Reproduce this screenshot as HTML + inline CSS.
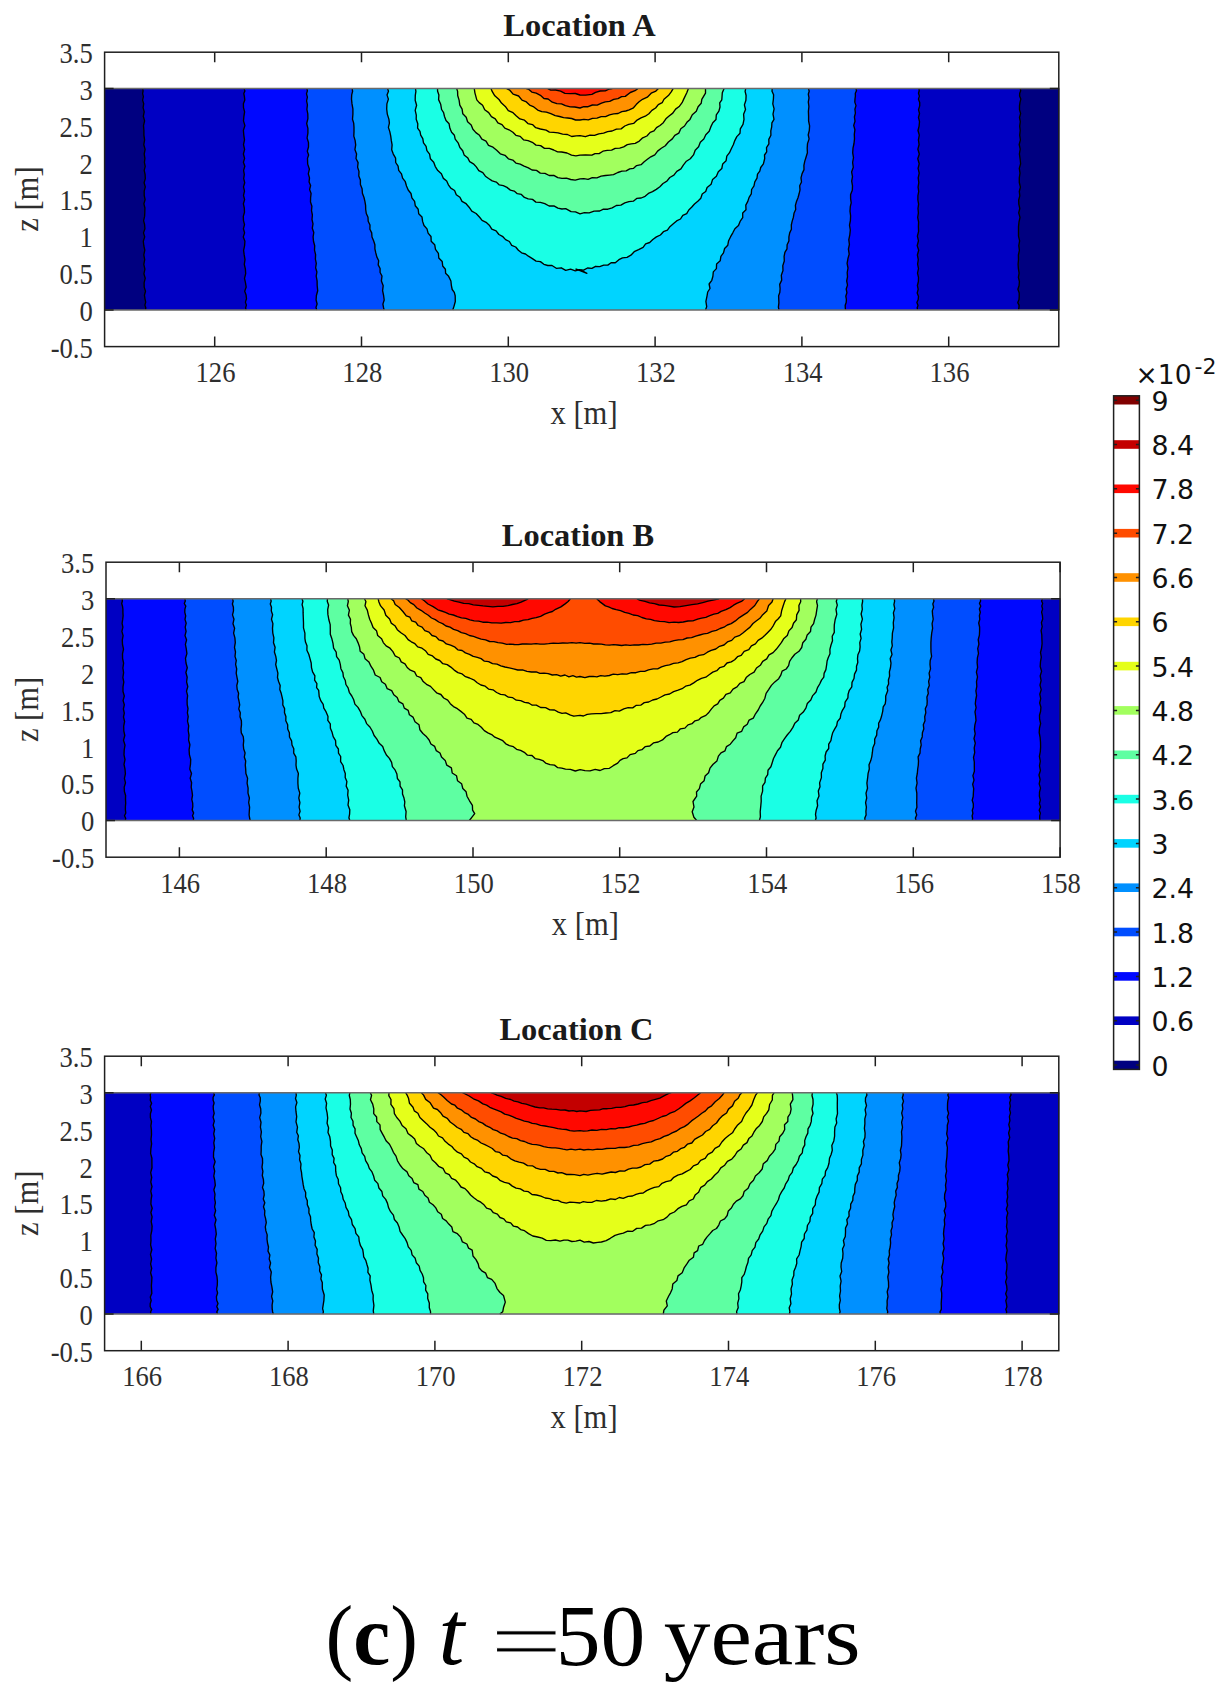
<!DOCTYPE html>
<html><head><meta charset="utf-8"><title>Contour figure</title>
<style>
html,body{margin:0;padding:0;background:#fff}
svg{display:block}
.c{fill:none;stroke:#000;stroke-width:1.35;stroke-linejoin:round}
.fb{fill:none;stroke:#6a6a6a;stroke-width:1.5}
.ax{fill:none;stroke:#1f1f1f;stroke-width:1.5}
.tk{font-family:"Liberation Serif",serif;font-size:26.6px;fill:#2e2e2e}
.lb{font-family:"Liberation Serif",serif;font-size:30.6px;fill:#2e2e2e}
.ti{font-family:"Liberation Serif",serif;font-size:31.5px;font-weight:bold;fill:#1a1a1a}
.cb{font-family:"DejaVu Sans",sans-serif;font-size:26.8px;fill:#111}
.cp{font-family:"Liberation Serif",serif;font-size:84px;fill:#000}
</style></head><body>
<svg width="1224" height="1704" viewBox="0 0 1224 1704">
<rect width="1224" height="1704" fill="#fff"/>
<rect x="104.6" y="88.6" width="954.8" height="221.4" fill="#000080"/>
<polygon points="142.7,88.6 143.1,90.9 142.6,93.6 143.4,96.6 142.6,100.1 143.7,103.7 143.1,107.7 144.2,111.9 143.3,116.3 144.6,120.9 143.5,125.6 143.9,130.3 143.9,135.1 144.6,139.9 143.8,144.7 145.1,149.4 144.2,154.0 144.9,158.4 144.4,162.3 145.2,166.3 144.2,170.4 145.1,174.5 145.3,178.6 144.1,182.7 145.3,186.9 144.2,191.1 144.2,195.3 145.1,199.6 143.9,203.8 144.9,208.0 144.8,212.2 144.6,216.4 143.6,220.6 144.6,224.7 144.9,228.8 143.5,232.9 144.7,236.9 143.3,241.2 143.8,245.7 144.8,250.2 143.8,254.9 144.7,259.6 143.8,264.4 144.9,269.1 143.9,273.8 145.2,278.3 144.1,282.8 144.2,287.1 145.5,291.2 144.4,295.2 145.0,298.8 145.7,302.1 144.9,305.1 145.8,307.8 145.5,310.0 1018.4,310.0 1018.9,307.8 1019.1,305.4 1017.8,302.6 1019.0,299.6 1019.2,296.4 1019.2,293.0 1017.9,289.3 1019.1,285.5 1019.4,281.5 1018.4,277.4 1019.1,273.1 1018.4,268.7 1018.1,264.2 1018.5,259.7 1018.4,255.0 1019.4,250.3 1018.8,245.6 1019.6,240.8 1018.5,236.1 1018.5,231.3 1018.5,226.6 1019.0,222.0 1020.0,217.4 1018.7,212.9 1019.8,208.5 1018.8,204.2 1018.7,200.0 1019.8,195.8 1019.3,191.5 1020.4,187.1 1019.3,182.5 1019.3,177.9 1020.0,173.2 1019.3,168.4 1020.6,163.7 1020.1,158.8 1019.4,154.0 1020.2,149.2 1019.2,144.5 1020.4,139.8 1019.7,135.1 1020.2,130.5 1019.7,126.1 1020.3,121.7 1019.5,117.5 1020.6,113.5 1019.5,109.6 1019.5,105.9 1020.0,102.4 1020.8,99.1 1019.6,96.1 1019.7,93.3 1020.7,90.8 1020.3,88.6" fill="#0000c3"/>
<polyline points="142.7,88.6 143.1,90.9 142.6,93.6 143.4,96.6 142.6,100.1 143.7,103.7 143.1,107.7 144.2,111.9 143.3,116.3 144.6,120.9 143.5,125.6 143.9,130.3 143.9,135.1 144.6,139.9 143.8,144.7 145.1,149.4 144.2,154.0 144.9,158.4 144.4,162.3 145.2,166.3 144.2,170.4 145.1,174.5 145.3,178.6 144.1,182.7 145.3,186.9 144.2,191.1 144.2,195.3 145.1,199.6 143.9,203.8 144.9,208.0 144.8,212.2 144.6,216.4 143.6,220.6 144.6,224.7 144.9,228.8 143.5,232.9 144.7,236.9 143.3,241.2 143.8,245.7 144.8,250.2 143.8,254.9 144.7,259.6 143.8,264.4 144.9,269.1 143.9,273.8 145.2,278.3 144.1,282.8 144.2,287.1 145.5,291.2 144.4,295.2 145.0,298.8 145.7,302.1 144.9,305.1 145.8,307.8 145.5,310.0" class="c"/>
<polyline points="1020.3,88.6 1020.7,90.8 1019.7,93.3 1019.6,96.1 1020.8,99.1 1020.0,102.4 1019.5,105.9 1019.5,109.6 1020.6,113.5 1019.5,117.5 1020.3,121.7 1019.7,126.1 1020.2,130.5 1019.7,135.1 1020.4,139.8 1019.2,144.5 1020.2,149.2 1019.4,154.0 1020.1,158.8 1020.6,163.7 1019.3,168.4 1020.0,173.2 1019.3,177.9 1019.3,182.5 1020.4,187.1 1019.3,191.5 1019.8,195.8 1018.7,200.0 1018.8,204.2 1019.8,208.5 1018.7,212.9 1020.0,217.4 1019.0,222.0 1018.5,226.6 1018.5,231.3 1018.5,236.1 1019.6,240.8 1018.8,245.6 1019.4,250.3 1018.4,255.0 1018.5,259.7 1018.1,264.2 1018.4,268.7 1019.1,273.1 1018.4,277.4 1019.4,281.5 1019.1,285.5 1017.9,289.3 1019.2,293.0 1019.2,296.4 1019.0,299.6 1017.8,302.6 1019.1,305.4 1018.9,307.8 1018.4,310.0" class="c"/>
<polygon points="244.1,88.6 244.9,90.9 243.8,93.6 244.4,96.6 244.8,100.0 243.4,103.7 243.5,107.7 244.6,111.9 243.9,116.3 243.5,120.9 244.9,125.6 243.4,130.3 243.8,135.1 244.5,139.9 243.5,144.7 244.6,149.4 243.4,154.0 244.6,158.4 243.4,162.3 244.8,166.3 243.6,170.4 244.3,174.5 243.7,178.6 244.7,182.7 243.5,186.9 244.5,191.1 243.5,195.3 244.6,199.6 243.4,203.8 244.3,208.0 244.5,212.2 243.3,216.4 243.5,220.6 244.5,224.7 243.4,228.8 244.6,232.9 243.3,236.9 244.9,241.2 244.6,245.7 243.6,250.3 244.2,254.9 245.0,259.6 244.3,264.4 245.4,269.1 245.7,273.7 244.5,278.4 245.5,282.8 246.2,287.1 244.7,291.3 246.1,295.1 246.5,298.8 245.4,302.1 246.4,305.1 245.6,307.8 246.1,310.0 917.6,310.0 917.2,307.8 918.0,305.4 916.9,302.6 918.2,299.6 918.5,296.4 917.2,293.0 918.2,289.3 917.4,285.5 918.4,281.5 918.5,277.4 917.5,273.1 918.5,268.7 917.6,264.2 918.3,259.7 917.4,255.0 918.7,250.3 917.2,245.6 918.5,240.8 917.4,236.1 918.6,231.4 918.4,226.7 918.6,222.0 917.7,217.4 918.4,212.9 918.0,208.5 918.6,204.2 917.9,200.0 917.9,195.8 918.7,191.5 918.1,187.1 918.8,182.5 918.2,177.9 919.2,173.2 918.1,168.4 919.2,163.7 917.8,158.8 919.3,154.0 917.9,149.2 919.1,144.5 918.4,139.8 919.3,135.1 918.0,130.5 919.1,126.1 919.5,121.7 918.5,117.5 919.5,113.5 918.5,109.6 919.7,105.9 919.7,102.4 918.4,99.1 919.4,96.1 918.5,93.3 919.2,90.8 919.0,88.6" fill="#0008ff"/>
<polyline points="244.1,88.6 244.9,90.9 243.8,93.6 244.4,96.6 244.8,100.0 243.4,103.7 243.5,107.7 244.6,111.9 243.9,116.3 243.5,120.9 244.9,125.6 243.4,130.3 243.8,135.1 244.5,139.9 243.5,144.7 244.6,149.4 243.4,154.0 244.6,158.4 243.4,162.3 244.8,166.3 243.6,170.4 244.3,174.5 243.7,178.6 244.7,182.7 243.5,186.9 244.5,191.1 243.5,195.3 244.6,199.6 243.4,203.8 244.3,208.0 244.5,212.2 243.3,216.4 243.5,220.6 244.5,224.7 243.4,228.8 244.6,232.9 243.3,236.9 244.9,241.2 244.6,245.7 243.6,250.3 244.2,254.9 245.0,259.6 244.3,264.4 245.4,269.1 245.7,273.7 244.5,278.4 245.5,282.8 246.2,287.1 244.7,291.3 246.1,295.1 246.5,298.8 245.4,302.1 246.4,305.1 245.6,307.8 246.1,310.0" class="c"/>
<polyline points="919.0,88.6 919.2,90.8 918.5,93.3 919.4,96.1 918.4,99.1 919.7,102.4 919.7,105.9 918.5,109.6 919.5,113.5 918.5,117.5 919.5,121.7 919.1,126.1 918.0,130.5 919.3,135.1 918.4,139.8 919.1,144.5 917.9,149.2 919.3,154.0 917.8,158.8 919.2,163.7 918.1,168.4 919.2,173.2 918.2,177.9 918.8,182.5 918.1,187.1 918.7,191.5 917.9,195.8 917.9,200.0 918.6,204.2 918.0,208.5 918.4,212.9 917.7,217.4 918.6,222.0 918.4,226.7 918.6,231.4 917.4,236.1 918.5,240.8 917.2,245.6 918.7,250.3 917.4,255.0 918.3,259.7 917.6,264.2 918.5,268.7 917.5,273.1 918.5,277.4 918.4,281.5 917.4,285.5 918.2,289.3 917.2,293.0 918.5,296.4 918.2,299.6 916.9,302.6 918.0,305.4 917.2,307.8 917.6,310.0" class="c"/>
<polygon points="306.9,88.6 307.4,90.9 306.5,93.8 307.4,97.1 306.6,100.9 307.4,104.9 306.9,109.3 307.8,113.9 307.9,118.6 306.7,123.5 307.9,128.4 307.9,133.2 307.1,138.0 308.5,142.6 308.5,147.0 307.3,151.2 308.6,155.0 307.5,158.4 307.7,164.1 309.4,169.1 308.3,173.8 309.5,177.9 309.1,181.9 310.6,185.6 309.6,189.5 311.1,193.4 310.6,197.6 310.5,202.0 311.9,206.3 311.5,210.7 312.4,215.0 312.0,219.5 313.0,223.8 312.3,228.2 313.8,232.5 313.1,236.9 313.5,241.3 314.7,245.7 314.5,250.2 315.6,254.6 315.4,259.1 316.3,263.4 315.6,267.8 316.9,272.0 316.2,276.1 317.1,280.8 317.2,285.7 317.7,290.7 316.4,295.5 316.1,300.0 317.1,304.0 316.0,307.4 316.7,310.0 845.5,310.0 845.3,307.8 845.2,305.2 846.2,302.5 846.4,299.5 845.8,296.2 846.9,292.7 846.2,289.0 847.5,285.1 846.7,281.0 847.5,276.8 847.2,272.5 848.0,268.0 847.1,263.4 847.9,258.8 849.2,254.1 848.4,249.2 849.4,244.5 848.8,239.6 849.8,234.8 850.3,230.0 849.5,225.2 850.4,220.5 850.6,215.8 850.0,211.2 850.3,206.7 851.2,202.8 850.6,198.7 850.6,194.5 852.3,190.2 852.5,185.8 851.7,181.2 852.5,176.6 851.6,171.9 853.3,167.2 852.6,162.5 853.5,157.7 852.7,152.9 853.0,148.2 854.0,143.5 854.5,138.9 854.3,134.3 854.9,129.8 853.7,125.4 855.0,121.2 854.4,117.0 855.4,113.1 854.9,109.2 856.0,105.6 854.8,102.1 855.0,98.9 855.4,96.0 855.3,93.2 856.5,90.8 856.0,88.6" fill="#004dff"/>
<polyline points="306.9,88.6 307.4,90.9 306.5,93.8 307.4,97.1 306.6,100.9 307.4,104.9 306.9,109.3 307.8,113.9 307.9,118.6 306.7,123.5 307.9,128.4 307.9,133.2 307.1,138.0 308.5,142.6 308.5,147.0 307.3,151.2 308.6,155.0 307.5,158.4 307.7,164.1 309.4,169.1 308.3,173.8 309.5,177.9 309.1,181.9 310.6,185.6 309.6,189.5 311.1,193.4 310.6,197.6 310.5,202.0 311.9,206.3 311.5,210.7 312.4,215.0 312.0,219.5 313.0,223.8 312.3,228.2 313.8,232.5 313.1,236.9 313.5,241.3 314.7,245.7 314.5,250.2 315.6,254.6 315.4,259.1 316.3,263.4 315.6,267.8 316.9,272.0 316.2,276.1 317.1,280.8 317.2,285.7 317.7,290.7 316.4,295.5 316.1,300.0 317.1,304.0 316.0,307.4 316.7,310.0" class="c"/>
<polyline points="856.0,88.6 856.5,90.8 855.3,93.2 855.4,96.0 855.0,98.9 854.8,102.1 856.0,105.6 854.9,109.2 855.4,113.1 854.4,117.0 855.0,121.2 853.7,125.4 854.9,129.8 854.3,134.3 854.5,138.9 854.0,143.5 853.0,148.2 852.7,152.9 853.5,157.7 852.6,162.5 853.3,167.2 851.6,171.9 852.5,176.6 851.7,181.2 852.5,185.8 852.3,190.2 850.6,194.5 850.6,198.7 851.2,202.8 850.3,206.7 850.0,211.2 850.6,215.8 850.4,220.5 849.5,225.2 850.3,230.0 849.8,234.8 848.8,239.6 849.4,244.5 848.4,249.2 849.2,254.1 847.9,258.8 847.1,263.4 848.0,268.0 847.2,272.5 847.5,276.8 846.7,281.0 847.5,285.1 846.2,289.0 846.9,292.7 845.8,296.2 846.4,299.5 846.2,302.5 845.2,305.2 845.3,307.8 845.5,310.0" class="c"/>
<polygon points="352.2,88.6 352.6,91.3 351.7,94.9 351.5,99.1 352.0,103.9 352.9,108.9 352.9,114.1 352.5,119.2 353.7,123.1 354.0,127.3 354.0,131.6 353.8,136.1 355.1,140.4 355.7,144.9 354.9,149.6 356.6,153.9 356.0,158.5 358.1,162.6 357.6,167.2 359.0,171.4 358.8,175.9 360.4,180.1 360.4,184.6 362.1,188.8 362.4,193.3 364.0,197.5 364.9,201.4 365.6,205.4 365.7,209.5 366.3,213.5 368.0,217.2 368.2,221.3 370.0,225.0 369.9,229.2 371.7,232.9 372.0,237.0 373.6,240.8 374.9,244.7 374.9,248.9 375.8,252.9 376.8,256.9 378.7,260.7 378.2,264.9 380.1,268.5 380.1,272.5 382.0,276.0 381.4,280.9 383.2,285.7 382.6,290.7 383.6,295.5 384.2,300.0 382.9,304.1 383.5,307.4 384.1,310.0 779.0,310.0 778.4,307.2 778.9,302.8 778.6,295.7 779.8,292.5 780.1,288.7 779.7,284.4 781.7,280.1 781.3,275.2 783.0,270.6 782.8,265.6 784.3,261.0 784.1,256.4 784.9,252.4 787.0,248.8 787.1,244.7 788.9,241.0 788.9,236.8 789.7,232.9 791.4,229.2 791.3,225.0 792.2,221.1 793.4,217.2 794.0,213.3 795.7,209.5 795.4,205.4 796.5,201.5 798.0,197.7 799.1,193.8 800.0,189.9 799.7,185.8 801.5,182.0 801.0,177.9 802.1,173.6 804.0,169.6 803.9,165.3 804.8,161.1 806.1,157.0 807.4,152.8 807.2,148.2 807.5,143.6 809.1,138.9 808.2,134.8 809.3,130.5 809.6,125.9 808.6,121.0 808.6,116.1 808.4,111.3 808.9,106.5 808.3,102.0 809.0,97.9 808.3,94.2 809.2,91.1 808.4,88.6" fill="#0090ff"/>
<polyline points="352.2,88.6 352.6,91.3 351.7,94.9 351.5,99.1 352.0,103.9 352.9,108.9 352.9,114.1 352.5,119.2 353.7,123.1 354.0,127.3 354.0,131.6 353.8,136.1 355.1,140.4 355.7,144.9 354.9,149.6 356.6,153.9 356.0,158.5 358.1,162.6 357.6,167.2 359.0,171.4 358.8,175.9 360.4,180.1 360.4,184.6 362.1,188.8 362.4,193.3 364.0,197.5 364.9,201.4 365.6,205.4 365.7,209.5 366.3,213.5 368.0,217.2 368.2,221.3 370.0,225.0 369.9,229.2 371.7,232.9 372.0,237.0 373.6,240.8 374.9,244.7 374.9,248.9 375.8,252.9 376.8,256.9 378.7,260.7 378.2,264.9 380.1,268.5 380.1,272.5 382.0,276.0 381.4,280.9 383.2,285.7 382.6,290.7 383.6,295.5 384.2,300.0 382.9,304.1 383.5,307.4 384.1,310.0" class="c"/>
<polyline points="808.4,88.6 809.2,91.1 808.3,94.2 809.0,97.9 808.3,102.0 808.9,106.5 808.4,111.3 808.6,116.1 808.6,121.0 809.6,125.9 809.3,130.5 808.2,134.8 809.1,138.9 807.5,143.6 807.2,148.2 807.4,152.8 806.1,157.0 804.8,161.1 803.9,165.3 804.0,169.6 802.1,173.6 801.0,177.9 801.5,182.0 799.7,185.8 800.0,189.9 799.1,193.8 798.0,197.7 796.5,201.5 795.4,205.4 795.7,209.5 794.0,213.3 793.4,217.2 792.2,221.1 791.3,225.0 791.4,229.2 789.7,232.9 788.9,236.8 788.9,241.0 787.1,244.7 787.0,248.8 784.9,252.4 784.1,256.4 784.3,261.0 782.8,265.6 783.0,270.6 781.3,275.2 781.7,280.1 779.7,284.4 780.1,288.7 779.8,292.5 778.6,295.7 778.9,302.8 778.4,307.2 779.0,310.0" class="c"/>
<polygon points="387.6,88.6 388.5,91.3 387.0,94.9 388.4,99.1 386.9,103.9 386.7,109.0 387.3,114.1 388.9,119.1 389.4,123.1 388.4,127.4 389.8,131.6 390.7,135.9 391.3,140.4 392.1,144.9 391.7,149.7 393.3,154.1 395.6,158.2 395.7,162.5 398.1,166.1 398.7,170.4 401.5,173.9 402.6,178.2 405.3,181.7 406.5,186.0 408.2,190.0 411.0,193.5 411.9,197.9 414.6,201.4 415.3,205.8 418.2,209.2 418.7,213.7 422.0,217.0 422.6,221.4 424.0,225.5 427.0,228.9 428.1,233.1 431.0,236.5 431.2,241.3 434.7,244.7 435.5,249.4 438.4,253.3 438.8,258.1 442.2,261.5 442.7,266.0 445.4,269.3 445.6,273.3 448.4,275.9 450.9,281.0 451.4,285.7 452.2,289.5 454.3,292.4 455.2,295.7 455.3,301.5 453.9,306.6 452.7,310.0 705.5,310.0 706.7,306.6 705.9,301.3 707.1,295.6 707.7,292.0 710.0,288.5 709.1,284.0 711.8,280.3 712.9,276.3 713.3,271.9 716.4,268.6 716.6,263.9 720.2,260.8 720.9,256.3 723.5,252.8 724.6,248.5 727.8,245.2 728.6,240.7 730.6,236.7 732.8,232.8 734.9,228.8 738.5,225.6 740.1,221.4 742.7,217.7 742.7,213.0 746.0,209.7 745.8,205.1 747.8,201.4 749.1,197.4 751.3,193.8 751.6,189.5 754.0,185.9 754.8,181.8 757.0,178.2 757.5,174.2 759.8,171.2 760.7,167.5 763.4,163.9 764.7,158.5 764.5,155.0 766.7,151.8 766.5,147.6 768.9,143.9 768.8,139.4 770.9,135.3 770.8,130.9 771.7,126.8 771.9,122.8 774.0,119.3 773.0,114.1 774.1,108.9 772.8,103.9 773.4,99.1 773.6,94.8 772.0,91.3 772.2,88.6" fill="#00d4ff"/>
<polyline points="387.6,88.6 388.5,91.3 387.0,94.9 388.4,99.1 386.9,103.9 386.7,109.0 387.3,114.1 388.9,119.1 389.4,123.1 388.4,127.4 389.8,131.6 390.7,135.9 391.3,140.4 392.1,144.9 391.7,149.7 393.3,154.1 395.6,158.2 395.7,162.5 398.1,166.1 398.7,170.4 401.5,173.9 402.6,178.2 405.3,181.7 406.5,186.0 408.2,190.0 411.0,193.5 411.9,197.9 414.6,201.4 415.3,205.8 418.2,209.2 418.7,213.7 422.0,217.0 422.6,221.4 424.0,225.5 427.0,228.9 428.1,233.1 431.0,236.5 431.2,241.3 434.7,244.7 435.5,249.4 438.4,253.3 438.8,258.1 442.2,261.5 442.7,266.0 445.4,269.3 445.6,273.3 448.4,275.9 450.9,281.0 451.4,285.7 452.2,289.5 454.3,292.4 455.2,295.7 455.3,301.5 453.9,306.6 452.7,310.0" class="c"/>
<polyline points="772.2,88.6 772.0,91.3 773.6,94.8 773.4,99.1 772.8,103.9 774.1,108.9 773.0,114.1 774.0,119.3 771.9,122.8 771.7,126.8 770.8,130.9 770.9,135.3 768.8,139.4 768.9,143.9 766.5,147.6 766.7,151.8 764.5,155.0 764.7,158.5 763.4,163.9 760.7,167.5 759.8,171.2 757.5,174.2 757.0,178.2 754.8,181.8 754.0,185.9 751.6,189.5 751.3,193.8 749.1,197.4 747.8,201.4 745.8,205.1 746.0,209.7 742.7,213.0 742.7,217.7 740.1,221.4 738.5,225.6 734.9,228.8 732.8,232.8 730.6,236.7 728.6,240.7 727.8,245.2 724.6,248.5 723.5,252.8 720.9,256.3 720.2,260.8 716.6,263.9 716.4,268.6 713.3,271.9 712.9,276.3 711.8,280.3 709.1,284.0 710.0,288.5 707.7,292.0 707.1,295.6 705.9,301.3 706.7,306.6 705.5,310.0" class="c"/>
<polygon points="415.5,88.6 415.9,91.5 415.3,95.4 415.2,100.2 416.6,105.2 415.2,110.4 416.3,115.1 416.2,119.2 417.8,123.7 417.6,128.1 420.0,131.4 420.7,135.1 422.8,138.6 423.5,142.9 426.1,146.4 426.9,150.7 429.6,154.2 430.4,158.8 433.7,162.2 435.3,166.6 437.8,170.6 441.4,173.8 443.4,178.4 446.7,181.0 448.4,184.8 450.8,188.2 454.6,190.5 456.3,194.7 459.9,197.3 462.0,201.4 466.1,203.7 469.1,207.2 471.8,211.2 476.1,213.5 479.4,217.0 482.1,220.4 486.1,222.3 489.3,225.2 491.8,229.1 496.1,230.9 498.9,234.5 502.9,236.7 505.6,239.6 509.4,241.5 511.7,245.3 515.7,247.0 518.4,250.3 521.6,252.8 525.5,254.0 528.4,256.2 532.4,258.6 536.1,261.1 540.4,261.6 543.9,264.3 547.8,265.5 552.0,265.5 556.3,268.3 561.3,267.8 565.7,270.3 570.6,269.2 575.3,270.9 579.3,269.6 583.6,270.2 587.5,268.0 591.9,268.3 595.6,266.3 599.7,266.6 603.7,265.1 607.8,265.1 611.1,262.7 615.3,262.7 618.9,259.7 622.5,257.9 627.0,257.3 630.9,255.2 634.2,251.7 638.6,249.6 643.1,247.3 645.6,243.9 649.7,242.5 652.8,239.5 656.4,236.9 660.4,235.0 663.4,231.7 667.4,230.1 669.9,226.7 673.3,223.8 676.6,220.9 680.5,219.0 682.8,215.3 686.7,213.6 688.8,210.0 691.6,207.3 694.5,204.0 697.8,201.2 700.8,198.2 702.2,194.0 705.7,191.5 707.1,187.5 711.1,184.3 712.6,179.4 716.4,176.2 718.3,171.8 721.8,168.5 722.7,163.9 726.1,160.7 726.8,156.2 729.5,152.7 731.3,148.7 733.3,144.8 734.8,140.6 736.8,136.6 740.0,133.3 740.3,128.8 743.0,124.3 744.0,119.4 743.6,114.3 745.5,109.5 744.4,104.9 745.9,100.2 746.1,95.5 745.1,91.4 745.7,88.6" fill="#1affe5"/>
<polyline points="415.5,88.6 415.9,91.5 415.3,95.4 415.2,100.2 416.6,105.2 415.2,110.4 416.3,115.1 416.2,119.2 417.8,123.7 417.6,128.1 420.0,131.4 420.7,135.1 422.8,138.6 423.5,142.9 426.1,146.4 426.9,150.7 429.6,154.2 430.4,158.8 433.7,162.2 435.3,166.6 437.8,170.6 441.4,173.8 443.4,178.4 446.7,181.0 448.4,184.8 450.8,188.2 454.6,190.5 456.3,194.7 459.9,197.3 462.0,201.4 466.1,203.7 469.1,207.2 471.8,211.2 476.1,213.5 479.4,217.0 482.1,220.4 486.1,222.3 489.3,225.2 491.8,229.1 496.1,230.9 498.9,234.5 502.9,236.7 505.6,239.6 509.4,241.5 511.7,245.3 515.7,247.0 518.4,250.3 521.6,252.8 525.5,254.0 528.4,256.2 532.4,258.6 536.1,261.1 540.4,261.6 543.9,264.3 547.8,265.5 552.0,265.5 556.3,268.3 561.3,267.8 565.7,270.3 570.6,269.2 575.3,270.9 579.3,269.6 583.6,270.2 587.5,268.0 591.9,268.3 595.6,266.3 599.7,266.6 603.7,265.1 607.8,265.1 611.1,262.7 615.3,262.7 618.9,259.7 622.5,257.9 627.0,257.3 630.9,255.2 634.2,251.7 638.6,249.6 643.1,247.3 645.6,243.9 649.7,242.5 652.8,239.5 656.4,236.9 660.4,235.0 663.4,231.7 667.4,230.1 669.9,226.7 673.3,223.8 676.6,220.9 680.5,219.0 682.8,215.3 686.7,213.6 688.8,210.0 691.6,207.3 694.5,204.0 697.8,201.2 700.8,198.2 702.2,194.0 705.7,191.5 707.1,187.5 711.1,184.3 712.6,179.4 716.4,176.2 718.3,171.8 721.8,168.5 722.7,163.9 726.1,160.7 726.8,156.2 729.5,152.7 731.3,148.7 733.3,144.8 734.8,140.6 736.8,136.6 740.0,133.3 740.3,128.8 743.0,124.3 744.0,119.4 743.6,114.3 745.5,109.5 744.4,104.9 745.9,100.2 746.1,95.5 745.1,91.4 745.7,88.6" class="c"/>
<polygon points="437.5,88.6 437.6,91.3 438.9,94.9 438.6,99.6 440.7,104.3 441.6,109.5 443.6,112.6 444.5,116.5 446.0,120.5 449.1,123.8 449.9,128.3 451.6,132.2 454.4,135.3 455.2,139.1 458.3,143.2 459.9,147.5 462.7,150.7 464.1,154.9 467.9,158.1 469.7,161.7 473.4,163.8 476.3,166.9 478.8,170.6 482.8,172.7 485.4,176.2 488.6,178.5 492.2,180.9 496.3,182.1 499.3,184.9 503.3,185.7 507.0,187.4 510.4,190.1 514.2,191.1 517.3,193.7 521.4,194.4 524.4,197.4 528.2,198.9 532.5,199.4 535.9,202.1 540.4,202.3 544.8,203.7 549.1,206.0 553.9,205.9 557.9,208.2 561.9,209.0 565.7,208.7 571.1,211.7 575.5,211.8 580.0,213.8 584.4,212.7 589.2,212.8 594.1,211.1 599.7,211.0 603.4,209.2 607.9,209.2 612.2,207.9 616.3,205.5 620.9,205.2 624.8,202.9 628.9,201.6 633.3,201.2 636.7,198.4 641.2,198.0 645.1,196.3 648.4,193.4 652.5,191.7 656.3,189.4 659.9,186.8 663.0,183.5 666.9,181.2 669.8,177.5 673.9,175.2 676.8,171.4 680.9,168.9 683.5,164.8 686.4,161.2 690.3,158.8 693.5,154.9 695.2,150.2 698.6,146.8 700.3,142.3 703.8,139.0 705.8,134.7 709.2,131.3 710.8,126.9 712.8,122.8 716.0,119.5 716.3,114.9 718.9,111.2 720.0,107.0 719.7,102.8 721.8,99.8 722.3,92.7 724.1,88.6" fill="#5effa2"/>
<polyline points="437.5,88.6 437.6,91.3 438.9,94.9 438.6,99.6 440.7,104.3 441.6,109.5 443.6,112.6 444.5,116.5 446.0,120.5 449.1,123.8 449.9,128.3 451.6,132.2 454.4,135.3 455.2,139.1 458.3,143.2 459.9,147.5 462.7,150.7 464.1,154.9 467.9,158.1 469.7,161.7 473.4,163.8 476.3,166.9 478.8,170.6 482.8,172.7 485.4,176.2 488.6,178.5 492.2,180.9 496.3,182.1 499.3,184.9 503.3,185.7 507.0,187.4 510.4,190.1 514.2,191.1 517.3,193.7 521.4,194.4 524.4,197.4 528.2,198.9 532.5,199.4 535.9,202.1 540.4,202.3 544.8,203.7 549.1,206.0 553.9,205.9 557.9,208.2 561.9,209.0 565.7,208.7 571.1,211.7 575.5,211.8 580.0,213.8 584.4,212.7 589.2,212.8 594.1,211.1 599.7,211.0 603.4,209.2 607.9,209.2 612.2,207.9 616.3,205.5 620.9,205.2 624.8,202.9 628.9,201.6 633.3,201.2 636.7,198.4 641.2,198.0 645.1,196.3 648.4,193.4 652.5,191.7 656.3,189.4 659.9,186.8 663.0,183.5 666.9,181.2 669.8,177.5 673.9,175.2 676.8,171.4 680.9,168.9 683.5,164.8 686.4,161.2 690.3,158.8 693.5,154.9 695.2,150.2 698.6,146.8 700.3,142.3 703.8,139.0 705.8,134.7 709.2,131.3 710.8,126.9 712.8,122.8 716.0,119.5 716.3,114.9 718.9,111.2 720.0,107.0 719.7,102.8 721.8,99.8 722.3,92.7 724.1,88.6" class="c"/>
<polygon points="456.7,88.6 457.6,91.4 457.7,95.5 459.1,100.1 459.8,105.1 462.1,109.2 462.8,113.8 466.2,117.2 467.6,121.8 471.2,124.9 472.9,129.3 475.9,132.6 479.5,135.3 481.9,139.2 486.0,141.2 488.5,145.3 493.0,147.2 496.7,150.3 500.3,153.8 505.0,155.3 508.4,158.8 512.8,160.1 515.9,163.1 520.2,164.1 524.1,166.1 528.4,167.8 532.0,170.0 536.5,170.4 540.3,173.1 545.0,173.4 549.2,175.5 553.8,175.3 557.8,177.6 562.0,178.3 566.4,178.2 570.7,179.5 575.2,180.1 580.0,178.8 583.8,178.7 588.1,179.4 592.3,177.6 596.9,177.8 601.1,176.2 605.4,175.5 609.6,175.1 613.5,174.7 617.8,172.5 621.9,171.1 626.2,170.9 629.7,168.8 633.6,168.3 636.6,165.6 641.1,164.7 644.2,161.8 647.4,159.3 650.8,156.8 654.8,154.8 657.6,151.1 661.3,148.3 665.3,145.7 668.4,142.0 672.3,138.9 674.8,135.3 678.8,133.1 680.8,128.8 684.5,126.0 686.9,122.3 690.0,119.4 692.3,114.8 696.3,111.3 698.1,106.7 701.2,103.3 701.8,99.3 705.5,93.1 705.5,88.6" fill="#a2ff5e"/>
<polyline points="456.7,88.6 457.6,91.4 457.7,95.5 459.1,100.1 459.8,105.1 462.1,109.2 462.8,113.8 466.2,117.2 467.6,121.8 471.2,124.9 472.9,129.3 475.9,132.6 479.5,135.3 481.9,139.2 486.0,141.2 488.5,145.3 493.0,147.2 496.7,150.3 500.3,153.8 505.0,155.3 508.4,158.8 512.8,160.1 515.9,163.1 520.2,164.1 524.1,166.1 528.4,167.8 532.0,170.0 536.5,170.4 540.3,173.1 545.0,173.4 549.2,175.5 553.8,175.3 557.8,177.6 562.0,178.3 566.4,178.2 570.7,179.5 575.2,180.1 580.0,178.8 583.8,178.7 588.1,179.4 592.3,177.6 596.9,177.8 601.1,176.2 605.4,175.5 609.6,175.1 613.5,174.7 617.8,172.5 621.9,171.1 626.2,170.9 629.7,168.8 633.6,168.3 636.6,165.6 641.1,164.7 644.2,161.8 647.4,159.3 650.8,156.8 654.8,154.8 657.6,151.1 661.3,148.3 665.3,145.7 668.4,142.0 672.3,138.9 674.8,135.3 678.8,133.1 680.8,128.8 684.5,126.0 686.9,122.3 690.0,119.4 692.3,114.8 696.3,111.3 698.1,106.7 701.2,103.3 701.8,99.3 705.5,93.1 705.5,88.6" class="c"/>
<polygon points="474.3,88.6 474.9,92.8 476.8,99.9 479.2,102.6 482.6,105.3 484.7,109.7 488.7,112.6 491.4,116.6 495.3,118.8 497.9,122.9 502.0,124.7 504.8,128.2 509.0,129.8 512.9,132.3 515.9,135.3 520.2,136.4 523.5,139.8 528.1,140.6 532.3,142.3 536.0,145.1 540.6,145.6 544.5,148.4 549.4,148.4 553.7,150.0 557.6,151.9 561.7,152.0 567.0,153.0 571.5,155.2 575.9,155.9 580.0,155.1 585.5,154.9 591.9,155.2 595.0,153.6 599.1,153.6 602.9,151.2 607.2,150.4 611.6,150.2 615.2,148.3 619.7,148.1 623.7,146.9 627.3,144.7 631.2,143.8 635.2,143.4 639.3,141.1 642.7,137.8 646.9,136.0 650.2,132.4 654.0,130.9 656.5,127.6 660.0,125.5 663.3,122.7 665.9,118.8 669.1,116.0 672.8,113.1 675.6,109.1 679.5,106.2 682.1,102.7 683.6,99.4 686.8,92.7 688.4,88.6" fill="#e5ff1a"/>
<polyline points="474.3,88.6 474.9,92.8 476.8,99.9 479.2,102.6 482.6,105.3 484.7,109.7 488.7,112.6 491.4,116.6 495.3,118.8 497.9,122.9 502.0,124.7 504.8,128.2 509.0,129.8 512.9,132.3 515.9,135.3 520.2,136.4 523.5,139.8 528.1,140.6 532.3,142.3 536.0,145.1 540.6,145.6 544.5,148.4 549.4,148.4 553.7,150.0 557.6,151.9 561.7,152.0 567.0,153.0 571.5,155.2 575.9,155.9 580.0,155.1 585.5,154.9 591.9,155.2 595.0,153.6 599.1,153.6 602.9,151.2 607.2,150.4 611.6,150.2 615.2,148.3 619.7,148.1 623.7,146.9 627.3,144.7 631.2,143.8 635.2,143.4 639.3,141.1 642.7,137.8 646.9,136.0 650.2,132.4 654.0,130.9 656.5,127.6 660.0,125.5 663.3,122.7 665.9,118.8 669.1,116.0 672.8,113.1 675.6,109.1 679.5,106.2 682.1,102.7 683.6,99.4 686.8,92.7 688.4,88.6" class="c"/>
<polygon points="491.0,88.6 492.3,91.7 494.8,95.8 499.0,99.5 501.5,103.1 505.3,106.4 508.3,110.6 513.0,112.7 516.4,115.9 519.9,118.9 524.5,120.2 527.9,123.6 532.5,124.6 535.7,127.7 540.4,129.0 546.1,130.2 549.4,132.1 553.6,132.3 558.1,132.9 562.6,134.2 567.4,134.5 571.7,136.5 576.2,135.9 580.0,135.6 585.4,136.7 590.0,135.2 594.5,135.4 598.8,133.8 603.6,133.2 607.6,131.6 612.1,131.0 616.4,129.2 621.1,128.9 624.8,126.0 628.7,124.4 633.6,123.4 637.1,120.1 641.0,117.9 645.3,116.2 648.9,113.7 651.9,110.4 655.6,108.0 658.3,104.6 662.2,102.7 664.0,99.3 668.4,95.6 671.4,91.6 673.1,88.6" fill="#ffd500"/>
<polyline points="491.0,88.6 492.3,91.7 494.8,95.8 499.0,99.5 501.5,103.1 505.3,106.4 508.3,110.6 513.0,112.7 516.4,115.9 519.9,118.9 524.5,120.2 527.9,123.6 532.5,124.6 535.7,127.7 540.4,129.0 546.1,130.2 549.4,132.1 553.6,132.3 558.1,132.9 562.6,134.2 567.4,134.5 571.7,136.5 576.2,135.9 580.0,135.6 585.4,136.7 590.0,135.2 594.5,135.4 598.8,133.8 603.6,133.2 607.6,131.6 612.1,131.0 616.4,129.2 621.1,128.9 624.8,126.0 628.7,124.4 633.6,123.4 637.1,120.1 641.0,117.9 645.3,116.2 648.9,113.7 651.9,110.4 655.6,108.0 658.3,104.6 662.2,102.7 664.0,99.3 668.4,95.6 671.4,91.6 673.1,88.6" class="c"/>
<polygon points="506.7,88.6 509.8,90.2 513.1,94.1 518.6,96.0 522.0,100.2 526.4,101.9 529.6,105.1 533.8,106.9 537.7,110.1 541.7,111.7 546.4,112.2 550.8,113.7 555.2,115.6 559.5,116.5 563.6,117.7 567.6,118.0 571.6,118.5 575.6,120.0 580.0,120.0 584.0,119.3 588.3,119.9 592.5,118.3 597.0,118.2 601.2,116.7 605.6,116.6 609.5,114.8 613.7,113.8 618.1,113.5 621.8,111.6 625.8,111.0 629.2,109.8 633.5,107.8 636.2,104.6 639.1,101.8 642.5,99.3 647.3,97.2 651.2,93.2 655.9,91.1 658.4,88.6" fill="#ff9100"/>
<polyline points="506.7,88.6 509.8,90.2 513.1,94.1 518.6,96.0 522.0,100.2 526.4,101.9 529.6,105.1 533.8,106.9 537.7,110.1 541.7,111.7 546.4,112.2 550.8,113.7 555.2,115.6 559.5,116.5 563.6,117.7 567.6,118.0 571.6,118.5 575.6,120.0 580.0,120.0 584.0,119.3 588.3,119.9 592.5,118.3 597.0,118.2 601.2,116.7 605.6,116.6 609.5,114.8 613.7,113.8 618.1,113.5 621.8,111.6 625.8,111.0 629.2,109.8 633.5,107.8 636.2,104.6 639.1,101.8 642.5,99.3 647.3,97.2 651.2,93.2 655.9,91.1 658.4,88.6" class="c"/>
<polygon points="526.3,88.6 528.9,89.4 531.8,92.1 536.2,93.2 540.4,95.3 543.9,98.5 548.1,99.0 552.3,102.2 556.9,103.6 561.5,103.9 565.4,105.7 570.2,106.9 574.8,107.0 580.0,108.0 583.8,106.7 588.1,106.7 592.4,105.0 597.2,105.1 601.5,103.2 605.3,101.8 609.7,101.4 613.7,99.3 618.0,98.7 621.6,96.7 625.3,96.4 630.3,92.5 635.0,90.7 637.8,88.6" fill="#ff4c00"/>
<polyline points="526.3,88.6 528.9,89.4 531.8,92.1 536.2,93.2 540.4,95.3 543.9,98.5 548.1,99.0 552.3,102.2 556.9,103.6 561.5,103.9 565.4,105.7 570.2,106.9 574.8,107.0 580.0,108.0 583.8,106.7 588.1,106.7 592.4,105.0 597.2,105.1 601.5,103.2 605.3,101.8 609.7,101.4 613.7,99.3 618.0,98.7 621.6,96.7 625.3,96.4 630.3,92.5 635.0,90.7 637.8,88.6" class="c"/>
<polygon points="547.8,88.6 550.8,90.1 555.6,90.0 560.6,91.1 564.9,93.3 570.2,93.7 575.4,93.5 580.0,95.0 585.6,95.1 591.9,94.4 595.6,92.4 600.2,91.0 605.3,90.9 609.4,89.0 612.4,88.6" fill="#ff0800"/>
<polyline points="547.8,88.6 550.8,90.1 555.6,90.0 560.6,91.1 564.9,93.3 570.2,93.7 575.4,93.5 580.0,95.0 585.6,95.1 591.9,94.4 595.6,92.4 600.2,91.0 605.3,90.9 609.4,89.0 612.4,88.6" class="c"/>
<path d="M104.6 88.6H1059.4M104.6 310.0H1059.4" class="fb"/>
<polyline points="575.5,269 580,270.5 586.9,273.3 581,270.2" class="c"/>
<rect x="104.6" y="52.2" width="954.2" height="294.4" class="ax"/>
<text transform="translate(215.5 382.2) scale(1 1.075)" text-anchor="middle" class="tk">126</text>
<text transform="translate(362.3 382.2) scale(1 1.075)" text-anchor="middle" class="tk">128</text>
<text transform="translate(509.1 382.2) scale(1 1.075)" text-anchor="middle" class="tk">130</text>
<text transform="translate(655.9 382.2) scale(1 1.075)" text-anchor="middle" class="tk">132</text>
<text transform="translate(802.7 382.2) scale(1 1.075)" text-anchor="middle" class="tk">134</text>
<text transform="translate(949.5 382.2) scale(1 1.075)" text-anchor="middle" class="tk">136</text>
<path d="M214.7 52.2v10M214.7 346.6v-10M361.5 52.2v10M361.5 346.6v-10M508.3 52.2v10M508.3 346.6v-10M655.1 52.2v10M655.1 346.6v-10M801.9 52.2v10M801.9 346.6v-10M948.7 52.2v10M948.7 346.6v-10M104.6 88.6h9M104.6 310.0h9M1058.8 88.6h-9M1058.8 310.0h-9" class="ax"/>
<text transform="translate(92.8 63.1) scale(1 1.075)" text-anchor="end" class="tk">3.5</text>
<text transform="translate(92.8 99.9) scale(1 1.075)" text-anchor="end" class="tk">3</text>
<text transform="translate(92.8 136.7) scale(1 1.075)" text-anchor="end" class="tk">2.5</text>
<text transform="translate(92.8 173.5) scale(1 1.075)" text-anchor="end" class="tk">2</text>
<text transform="translate(92.8 210.3) scale(1 1.075)" text-anchor="end" class="tk">1.5</text>
<text transform="translate(92.8 247.1) scale(1 1.075)" text-anchor="end" class="tk">1</text>
<text transform="translate(92.8 283.9) scale(1 1.075)" text-anchor="end" class="tk">0.5</text>
<text transform="translate(92.8 320.7) scale(1 1.075)" text-anchor="end" class="tk">0</text>
<text transform="translate(92.8 357.5) scale(1 1.075)" text-anchor="end" class="tk">-0.5</text>
<text transform="translate(584.0 424.2) scale(1 1.1)" text-anchor="middle" class="lb">x [m]</text>
<text transform="translate(37.9 199.1) rotate(-90) scale(1 1.1)" text-anchor="middle" class="lb">z [m]</text>
<text transform="translate(579.5 36.2) scale(1.03 1)" text-anchor="middle" class="ti">Location A</text>
<rect x="106.0" y="598.8" width="954.7" height="221.7" fill="#0000c3"/>
<polygon points="122.1,598.8 122.4,601.0 121.7,603.5 122.5,606.2 122.9,609.2 122.9,612.4 123.1,615.8 122.7,619.4 122.1,623.3 122.9,627.2 121.9,631.4 123.1,635.6 122.3,640.1 122.5,644.5 123.5,649.1 122.5,653.8 122.6,658.5 123.6,663.2 122.9,668.0 123.6,672.7 122.9,677.5 123.8,682.2 123.0,686.9 123.0,691.5 124.3,696.0 123.1,700.5 124.3,704.8 123.4,709.0 124.3,713.1 123.5,717.0 124.6,721.5 123.7,726.1 123.8,730.8 124.8,735.5 123.5,740.3 125.0,745.1 124.2,750.0 124.0,754.8 125.0,759.6 124.0,764.4 125.0,769.2 125.4,773.8 124.4,778.4 125.5,782.9 124.2,787.3 124.4,791.5 125.6,795.5 125.5,799.4 125.7,803.1 125.4,806.7 125.4,809.9 125.8,813.0 124.5,815.8 125.7,818.3 125.3,820.5 1040.0,820.5 1039.7,818.3 1039.7,815.9 1040.4,813.2 1039.2,810.2 1040.5,807.0 1039.4,803.6 1040.3,800.0 1039.4,796.2 1039.5,792.2 1040.5,788.1 1039.2,783.9 1040.1,779.5 1039.0,775.0 1040.4,770.5 1039.5,765.8 1040.3,761.1 1039.4,756.4 1040.3,751.6 1040.6,746.9 1040.5,742.1 1040.1,737.4 1039.2,732.7 1039.5,728.0 1040.6,723.5 1039.6,719.0 1039.5,715.2 1040.6,711.3 1040.9,707.2 1039.7,703.0 1040.7,698.7 1039.8,694.2 1041.2,689.7 1040.0,685.1 1041.1,680.5 1040.2,675.9 1041.6,671.2 1040.2,666.5 1040.5,661.8 1041.3,657.2 1040.5,652.5 1041.6,648.0 1042.1,643.5 1041.9,639.1 1041.8,634.8 1041.1,630.6 1042.2,626.6 1041.4,622.7 1042.7,619.0 1042.4,615.5 1041.6,612.1 1042.6,609.0 1041.8,606.0 1042.7,603.4 1041.6,600.9 1042.4,598.8" fill="#0008ff"/>
<polyline points="122.1,598.8 122.4,601.0 121.7,603.5 122.5,606.2 122.9,609.2 122.9,612.4 123.1,615.8 122.7,619.4 122.1,623.3 122.9,627.2 121.9,631.4 123.1,635.6 122.3,640.1 122.5,644.5 123.5,649.1 122.5,653.8 122.6,658.5 123.6,663.2 122.9,668.0 123.6,672.7 122.9,677.5 123.8,682.2 123.0,686.9 123.0,691.5 124.3,696.0 123.1,700.5 124.3,704.8 123.4,709.0 124.3,713.1 123.5,717.0 124.6,721.5 123.7,726.1 123.8,730.8 124.8,735.5 123.5,740.3 125.0,745.1 124.2,750.0 124.0,754.8 125.0,759.6 124.0,764.4 125.0,769.2 125.4,773.8 124.4,778.4 125.5,782.9 124.2,787.3 124.4,791.5 125.6,795.5 125.5,799.4 125.7,803.1 125.4,806.7 125.4,809.9 125.8,813.0 124.5,815.8 125.7,818.3 125.3,820.5" class="c"/>
<polyline points="1042.4,598.8 1041.6,600.9 1042.7,603.4 1041.8,606.0 1042.6,609.0 1041.6,612.1 1042.4,615.5 1042.7,619.0 1041.4,622.7 1042.2,626.6 1041.1,630.6 1041.8,634.8 1041.9,639.1 1042.1,643.5 1041.6,648.0 1040.5,652.5 1041.3,657.2 1040.5,661.8 1040.2,666.5 1041.6,671.2 1040.2,675.9 1041.1,680.5 1040.0,685.1 1041.2,689.7 1039.8,694.2 1040.7,698.7 1039.7,703.0 1040.9,707.2 1040.6,711.3 1039.5,715.2 1039.6,719.0 1040.6,723.5 1039.5,728.0 1039.2,732.7 1040.1,737.4 1040.5,742.1 1040.6,746.9 1040.3,751.6 1039.4,756.4 1040.3,761.1 1039.5,765.8 1040.4,770.5 1039.0,775.0 1040.1,779.5 1039.2,783.9 1040.5,788.1 1039.5,792.2 1039.4,796.2 1040.3,800.0 1039.4,803.6 1040.5,807.0 1039.2,810.2 1040.4,813.2 1039.7,815.9 1039.7,818.3 1040.0,820.5" class="c"/>
<polygon points="184.9,598.8 185.3,601.0 184.3,603.5 185.8,606.1 184.9,609.1 184.8,612.3 185.7,615.8 185.0,619.4 186.2,623.2 185.2,627.2 186.1,631.3 185.0,635.6 186.6,639.9 185.4,644.4 186.3,648.9 186.9,653.6 185.5,658.3 186.0,663.0 187.3,667.7 185.9,672.5 187.2,677.2 186.6,682.0 187.8,686.6 186.5,691.2 187.6,695.7 187.1,700.2 187.2,704.5 188.0,708.7 187.4,712.8 188.2,716.7 187.5,721.2 188.7,725.8 188.2,730.5 189.0,735.2 188.6,740.0 189.9,744.8 189.1,749.7 189.4,754.6 190.7,759.4 190.5,764.2 189.8,769.0 191.5,773.6 190.2,778.3 191.6,782.7 191.2,787.1 192.0,791.3 192.5,795.4 191.8,799.4 192.7,803.1 192.8,806.6 192.2,809.9 193.6,812.9 192.5,815.8 193.6,818.3 193.3,820.5 972.3,820.5 972.6,818.4 972.1,815.9 972.9,813.3 972.3,810.3 973.3,807.2 973.3,803.8 972.2,800.2 973.2,796.5 973.4,792.6 973.7,788.6 972.7,784.3 974.0,780.1 972.9,775.6 974.4,771.2 974.3,766.6 974.3,762.0 973.5,757.3 974.7,752.6 974.2,747.9 975.3,743.2 974.0,738.5 975.2,733.9 974.4,729.3 974.9,724.8 976.0,720.4 975.6,716.0 975.0,711.8 976.1,707.7 975.3,703.8 975.7,700.0 976.6,695.5 975.9,690.9 976.8,686.3 976.5,681.6 977.5,676.9 976.4,672.1 977.6,667.4 977.1,662.6 977.4,657.9 978.5,653.3 977.7,648.6 978.9,644.1 978.2,639.6 979.4,635.3 979.6,631.1 979.6,627.0 978.7,623.0 979.8,619.3 979.4,615.6 980.3,612.3 979.4,609.0 980.7,606.1 979.5,603.4 980.6,601.0 980.4,598.8" fill="#004dff"/>
<polyline points="184.9,598.8 185.3,601.0 184.3,603.5 185.8,606.1 184.9,609.1 184.8,612.3 185.7,615.8 185.0,619.4 186.2,623.2 185.2,627.2 186.1,631.3 185.0,635.6 186.6,639.9 185.4,644.4 186.3,648.9 186.9,653.6 185.5,658.3 186.0,663.0 187.3,667.7 185.9,672.5 187.2,677.2 186.6,682.0 187.8,686.6 186.5,691.2 187.6,695.7 187.1,700.2 187.2,704.5 188.0,708.7 187.4,712.8 188.2,716.7 187.5,721.2 188.7,725.8 188.2,730.5 189.0,735.2 188.6,740.0 189.9,744.8 189.1,749.7 189.4,754.6 190.7,759.4 190.5,764.2 189.8,769.0 191.5,773.6 190.2,778.3 191.6,782.7 191.2,787.1 192.0,791.3 192.5,795.4 191.8,799.4 192.7,803.1 192.8,806.6 192.2,809.9 193.6,812.9 192.5,815.8 193.6,818.3 193.3,820.5" class="c"/>
<polyline points="980.4,598.8 980.6,601.0 979.5,603.4 980.7,606.1 979.4,609.0 980.3,612.3 979.4,615.6 979.8,619.3 978.7,623.0 979.6,627.0 979.6,631.1 979.4,635.3 978.2,639.6 978.9,644.1 977.7,648.6 978.5,653.3 977.4,657.9 977.1,662.6 977.6,667.4 976.4,672.1 977.5,676.9 976.5,681.6 976.8,686.3 975.9,690.9 976.6,695.5 975.7,700.0 975.3,703.8 976.1,707.7 975.0,711.8 975.6,716.0 976.0,720.4 974.9,724.8 974.4,729.3 975.2,733.9 974.0,738.5 975.3,743.2 974.2,747.9 974.7,752.6 973.5,757.3 974.3,762.0 974.3,766.6 974.4,771.2 972.9,775.6 974.0,780.1 972.7,784.3 973.7,788.6 973.4,792.6 973.2,796.5 972.2,800.2 973.3,803.8 973.3,807.2 972.3,810.3 972.9,813.3 972.1,815.9 972.6,818.4 972.3,820.5" class="c"/>
<polygon points="232.5,598.8 233.2,601.1 232.4,604.0 233.4,607.2 233.5,610.9 232.5,614.9 234.0,619.2 233.0,623.7 234.6,628.3 233.6,633.1 234.9,637.9 235.3,642.6 234.5,647.4 235.5,652.0 235.0,656.4 236.3,660.5 235.6,664.4 236.7,668.8 236.2,673.2 237.0,677.4 237.8,681.4 236.8,685.5 237.2,689.5 238.6,693.3 238.1,697.2 239.0,701.0 239.7,704.8 238.8,708.9 240.3,712.7 240.0,716.7 241.4,720.7 241.5,724.7 241.0,728.9 241.3,732.9 243.3,736.8 243.7,740.8 243.3,745.0 243.7,749.0 245.1,752.9 244.3,757.1 245.7,761.0 245.3,765.1 245.7,769.1 245.9,773.6 247.6,778.2 247.1,783.2 248.1,788.1 248.0,793.1 249.4,798.0 248.7,802.7 249.6,807.2 249.3,811.3 249.1,815.0 249.6,818.0 250.2,820.5 916.0,820.5 915.4,818.0 916.7,814.9 915.5,811.3 916.9,807.2 916.7,802.7 916.8,798.0 916.8,793.1 916.0,788.1 917.1,783.2 916.4,778.2 917.3,773.5 917.7,769.0 918.3,765.1 918.5,761.0 918.1,756.9 920.0,753.1 920.2,749.0 921.2,745.0 920.6,740.8 922.2,736.9 922.4,732.8 923.8,728.9 923.3,724.7 925.0,720.8 924.7,716.7 925.8,712.7 925.3,708.7 927.0,705.0 927.2,701.1 926.9,697.1 928.3,693.4 927.7,689.4 929.3,685.5 928.6,681.4 929.8,677.4 929.1,673.1 930.5,668.9 930.0,664.4 930.2,660.5 931.6,656.4 931.0,652.0 930.9,647.4 930.9,642.6 931.2,637.9 931.7,633.1 932.6,628.3 932.1,623.7 933.2,619.2 932.6,614.9 932.3,610.9 933.6,607.2 932.8,603.9 934.0,601.1 933.5,598.8" fill="#0090ff"/>
<polyline points="232.5,598.8 233.2,601.1 232.4,604.0 233.4,607.2 233.5,610.9 232.5,614.9 234.0,619.2 233.0,623.7 234.6,628.3 233.6,633.1 234.9,637.9 235.3,642.6 234.5,647.4 235.5,652.0 235.0,656.4 236.3,660.5 235.6,664.4 236.7,668.8 236.2,673.2 237.0,677.4 237.8,681.4 236.8,685.5 237.2,689.5 238.6,693.3 238.1,697.2 239.0,701.0 239.7,704.8 238.8,708.9 240.3,712.7 240.0,716.7 241.4,720.7 241.5,724.7 241.0,728.9 241.3,732.9 243.3,736.8 243.7,740.8 243.3,745.0 243.7,749.0 245.1,752.9 244.3,757.1 245.7,761.0 245.3,765.1 245.7,769.1 245.9,773.6 247.6,778.2 247.1,783.2 248.1,788.1 248.0,793.1 249.4,798.0 248.7,802.7 249.6,807.2 249.3,811.3 249.1,815.0 249.6,818.0 250.2,820.5" class="c"/>
<polyline points="933.5,598.8 934.0,601.1 932.8,603.9 933.6,607.2 932.3,610.9 932.6,614.9 933.2,619.2 932.1,623.7 932.6,628.3 931.7,633.1 931.2,637.9 930.9,642.6 930.9,647.4 931.0,652.0 931.6,656.4 930.2,660.5 930.0,664.4 930.5,668.9 929.1,673.1 929.8,677.4 928.6,681.4 929.3,685.5 927.7,689.4 928.3,693.4 926.9,697.1 927.2,701.1 927.0,705.0 925.3,708.7 925.8,712.7 924.7,716.7 925.0,720.8 923.3,724.7 923.8,728.9 922.4,732.8 922.2,736.9 920.6,740.8 921.2,745.0 920.2,749.0 920.0,753.1 918.1,756.9 918.5,761.0 918.3,765.1 917.7,769.0 917.3,773.5 916.4,778.2 917.1,783.2 916.0,788.1 916.8,793.1 916.8,798.0 916.7,802.7 916.9,807.2 915.5,811.3 916.7,814.9 915.4,818.0 916.0,820.5" class="c"/>
<polygon points="270.6,598.8 271.2,601.1 270.3,604.0 271.5,607.2 271.3,610.9 272.6,614.8 271.5,619.2 272.9,623.6 272.5,628.4 272.8,633.1 273.9,637.9 273.5,642.7 275.1,647.3 274.4,652.0 275.8,656.4 276.5,660.5 275.7,664.5 276.8,668.9 277.9,673.1 277.5,677.5 278.6,681.5 280.2,685.4 279.8,689.5 281.2,693.3 282.1,697.1 282.9,700.9 282.8,705.0 284.6,708.6 284.5,712.8 285.9,716.6 285.8,720.8 287.7,724.7 287.7,728.9 289.4,732.8 289.5,737.0 291.6,740.8 292.0,745.0 293.8,748.8 293.7,753.1 295.9,756.8 296.2,761.0 296.0,765.1 296.6,769.1 298.4,773.4 297.9,778.3 297.9,783.2 298.3,788.2 299.8,793.1 298.8,798.0 299.9,802.7 299.1,807.2 300.1,811.3 298.9,814.9 300.2,818.0 299.9,820.5 865.0,820.5 864.8,818.0 866.1,814.9 865.9,811.3 866.4,807.2 865.6,802.7 866.7,798.0 866.0,793.1 867.5,788.2 866.9,783.1 867.6,778.2 868.1,773.4 869.3,769.0 869.0,764.8 870.7,760.8 871.8,756.6 872.4,752.2 872.9,747.7 874.7,743.5 874.7,739.0 876.7,735.1 876.9,730.8 878.7,727.1 878.6,723.2 880.4,719.9 881.4,716.8 882.7,711.3 883.2,706.9 885.2,703.9 885.7,700.3 885.7,696.0 887.7,690.7 887.1,687.3 888.6,683.9 888.4,680.0 889.6,676.1 889.4,671.8 890.5,667.5 891.0,663.1 890.2,658.6 892.0,654.4 890.9,650.0 892.3,645.9 891.8,641.9 892.2,638.3 892.4,633.1 893.6,627.9 893.3,622.7 894.1,617.7 893.4,612.9 894.8,608.6 893.9,604.7 894.6,601.4 894.4,598.8" fill="#00d4ff"/>
<polyline points="270.6,598.8 271.2,601.1 270.3,604.0 271.5,607.2 271.3,610.9 272.6,614.8 271.5,619.2 272.9,623.6 272.5,628.4 272.8,633.1 273.9,637.9 273.5,642.7 275.1,647.3 274.4,652.0 275.8,656.4 276.5,660.5 275.7,664.5 276.8,668.9 277.9,673.1 277.5,677.5 278.6,681.5 280.2,685.4 279.8,689.5 281.2,693.3 282.1,697.1 282.9,700.9 282.8,705.0 284.6,708.6 284.5,712.8 285.9,716.6 285.8,720.8 287.7,724.7 287.7,728.9 289.4,732.8 289.5,737.0 291.6,740.8 292.0,745.0 293.8,748.8 293.7,753.1 295.9,756.8 296.2,761.0 296.0,765.1 296.6,769.1 298.4,773.4 297.9,778.3 297.9,783.2 298.3,788.2 299.8,793.1 298.8,798.0 299.9,802.7 299.1,807.2 300.1,811.3 298.9,814.9 300.2,818.0 299.9,820.5" class="c"/>
<polyline points="894.4,598.8 894.6,601.4 893.9,604.7 894.8,608.6 893.4,612.9 894.1,617.7 893.3,622.7 893.6,627.9 892.4,633.1 892.2,638.3 891.8,641.9 892.3,645.9 890.9,650.0 892.0,654.4 890.2,658.6 891.0,663.1 890.5,667.5 889.4,671.8 889.6,676.1 888.4,680.0 888.6,683.9 887.1,687.3 887.7,690.7 885.7,696.0 885.7,700.3 885.2,703.9 883.2,706.9 882.7,711.3 881.4,716.8 880.4,719.9 878.6,723.2 878.7,727.1 876.9,730.8 876.7,735.1 874.7,739.0 874.7,743.5 872.9,747.7 872.4,752.2 871.8,756.6 870.7,760.8 869.0,764.8 869.3,769.0 868.1,773.4 867.6,778.2 866.9,783.1 867.5,788.2 866.0,793.1 866.7,798.0 865.6,802.7 866.4,807.2 865.9,811.3 866.1,814.9 864.8,818.0 865.0,820.5" class="c"/>
<polygon points="302.0,598.8 302.9,601.3 302.1,604.7 303.1,608.5 303.1,612.9 303.3,617.7 303.5,622.7 303.5,627.9 304.9,633.1 304.9,638.4 305.5,642.1 307.0,645.8 306.9,650.2 308.8,654.3 310.0,658.6 311.2,663.0 311.5,667.6 312.6,671.9 314.9,675.8 314.6,680.2 316.9,683.7 316.6,687.6 318.7,690.4 319.2,696.5 320.9,700.9 323.2,704.3 323.8,708.1 326.0,711.7 328.0,716.5 327.8,720.4 330.3,723.8 330.4,728.2 332.1,732.3 333.2,736.7 335.6,740.7 335.8,745.3 338.4,749.0 338.5,753.2 340.7,756.5 340.6,761.6 343.1,765.5 343.9,769.7 345.3,773.5 345.2,777.6 346.9,781.5 346.2,786.1 348.1,790.2 347.7,795.1 348.7,800.1 348.0,805.1 349.8,809.8 349.6,814.2 348.9,817.8 349.8,820.5 815.3,820.5 816.1,818.0 815.5,814.3 816.2,810.2 817.6,805.7 817.0,800.7 819.0,795.9 818.3,791.0 820.0,786.8 819.6,782.9 821.4,777.6 821.3,772.7 822.9,768.6 822.9,764.2 825.3,760.2 825.1,756.0 826.1,752.0 828.7,748.5 828.7,744.2 830.9,740.7 831.6,736.9 832.7,732.7 834.6,729.1 836.7,725.6 837.4,721.6 840.2,718.3 840.9,714.1 842.4,710.3 844.7,706.6 845.1,702.1 847.9,697.9 848.1,694.1 849.3,690.3 851.8,686.8 852.0,682.4 854.0,678.5 854.5,674.1 856.5,670.1 856.5,666.2 857.8,662.6 857.5,658.6 857.9,654.8 859.6,651.0 860.1,646.9 859.8,642.6 861.1,638.4 860.2,634.0 861.6,629.3 860.9,624.2 862.4,619.1 861.1,614.0 862.3,609.3 861.9,605.1 862.6,601.5 862.5,598.8" fill="#1affe5"/>
<polyline points="302.0,598.8 302.9,601.3 302.1,604.7 303.1,608.5 303.1,612.9 303.3,617.7 303.5,622.7 303.5,627.9 304.9,633.1 304.9,638.4 305.5,642.1 307.0,645.8 306.9,650.2 308.8,654.3 310.0,658.6 311.2,663.0 311.5,667.6 312.6,671.9 314.9,675.8 314.6,680.2 316.9,683.7 316.6,687.6 318.7,690.4 319.2,696.5 320.9,700.9 323.2,704.3 323.8,708.1 326.0,711.7 328.0,716.5 327.8,720.4 330.3,723.8 330.4,728.2 332.1,732.3 333.2,736.7 335.6,740.7 335.8,745.3 338.4,749.0 338.5,753.2 340.7,756.5 340.6,761.6 343.1,765.5 343.9,769.7 345.3,773.5 345.2,777.6 346.9,781.5 346.2,786.1 348.1,790.2 347.7,795.1 348.7,800.1 348.0,805.1 349.8,809.8 349.6,814.2 348.9,817.8 349.8,820.5" class="c"/>
<polyline points="862.5,598.8 862.6,601.5 861.9,605.1 862.3,609.3 861.1,614.0 862.4,619.1 860.9,624.2 861.6,629.3 860.2,634.0 861.1,638.4 859.8,642.6 860.1,646.9 859.6,651.0 857.9,654.8 857.5,658.6 857.8,662.6 856.5,666.2 856.5,670.1 854.5,674.1 854.0,678.5 852.0,682.4 851.8,686.8 849.3,690.3 848.1,694.1 847.9,697.9 845.1,702.1 844.7,706.6 842.4,710.3 840.9,714.1 840.2,718.3 837.4,721.6 836.7,725.6 834.6,729.1 832.7,732.7 831.6,736.9 830.9,740.7 828.7,744.2 828.7,748.5 826.1,752.0 825.1,756.0 825.3,760.2 822.9,764.2 822.9,768.6 821.3,772.7 821.4,777.6 819.6,782.9 820.0,786.8 818.3,791.0 819.0,795.9 817.0,800.7 817.6,805.7 816.2,810.2 815.5,814.3 816.1,818.0 815.3,820.5" class="c"/>
<polygon points="327.4,598.8 327.3,601.6 328.6,605.1 327.7,609.6 327.9,614.4 328.8,619.5 330.2,624.6 330.3,629.6 330.3,634.3 331.7,638.2 333.0,643.3 333.6,648.2 336.2,652.1 336.6,656.6 339.2,660.2 340.3,664.4 340.9,668.7 342.9,672.6 343.4,676.8 345.3,680.5 345.9,684.5 348.1,687.9 349.3,692.3 351.8,696.0 353.7,699.8 354.9,704.1 358.0,707.4 360.3,711.3 361.9,715.6 364.9,719.2 366.6,723.6 369.9,727.0 372.3,731.0 374.1,735.5 376.9,739.2 379.2,743.3 382.7,746.6 384.3,750.9 386.4,755.0 389.4,758.4 391.6,762.3 392.4,766.7 395.2,770.2 396.9,774.1 397.4,778.5 400.0,781.9 400.1,786.2 402.5,789.9 402.5,794.1 404.0,798.1 404.8,802.0 404.4,805.7 406.1,811.5 405.7,816.9 406.3,820.5 759.4,820.5 760.4,816.9 760.2,811.6 760.8,805.7 761.2,801.1 761.1,796.1 762.6,791.1 762.6,785.8 765.0,782.3 765.4,778.1 767.7,774.6 768.0,770.2 770.9,766.8 772.2,762.7 773.5,758.5 775.5,754.6 777.5,750.7 780.5,747.2 781.9,742.7 784.4,738.8 787.2,735.0 790.3,731.4 792.9,727.4 794.8,723.2 798.3,720.0 799.6,715.3 803.3,712.1 806.0,707.9 807.3,703.5 810.8,700.1 812.7,695.6 816.0,692.0 817.5,687.6 819.7,684.0 821.5,680.1 823.8,677.1 824.1,673.4 825.9,669.6 826.7,664.3 827.1,661.0 828.3,657.5 830.0,653.7 829.9,649.3 831.0,645.0 832.5,640.8 832.2,636.3 834.3,632.4 834.2,628.4 834.3,624.9 835.2,619.5 836.8,614.4 836.0,609.4 837.3,605.1 836.3,601.5 837.0,598.8" fill="#5effa2"/>
<polyline points="327.4,598.8 327.3,601.6 328.6,605.1 327.7,609.6 327.9,614.4 328.8,619.5 330.2,624.6 330.3,629.6 330.3,634.3 331.7,638.2 333.0,643.3 333.6,648.2 336.2,652.1 336.6,656.6 339.2,660.2 340.3,664.4 340.9,668.7 342.9,672.6 343.4,676.8 345.3,680.5 345.9,684.5 348.1,687.9 349.3,692.3 351.8,696.0 353.7,699.8 354.9,704.1 358.0,707.4 360.3,711.3 361.9,715.6 364.9,719.2 366.6,723.6 369.9,727.0 372.3,731.0 374.1,735.5 376.9,739.2 379.2,743.3 382.7,746.6 384.3,750.9 386.4,755.0 389.4,758.4 391.6,762.3 392.4,766.7 395.2,770.2 396.9,774.1 397.4,778.5 400.0,781.9 400.1,786.2 402.5,789.9 402.5,794.1 404.0,798.1 404.8,802.0 404.4,805.7 406.1,811.5 405.7,816.9 406.3,820.5" class="c"/>
<polyline points="837.0,598.8 836.3,601.5 837.3,605.1 836.0,609.4 836.8,614.4 835.2,619.5 834.3,624.9 834.2,628.4 834.3,632.4 832.2,636.3 832.5,640.8 831.0,645.0 829.9,649.3 830.0,653.7 828.3,657.5 827.1,661.0 826.7,664.3 825.9,669.6 824.1,673.4 823.8,677.1 821.5,680.1 819.7,684.0 817.5,687.6 816.0,692.0 812.7,695.6 810.8,700.1 807.3,703.5 806.0,707.9 803.3,712.1 799.6,715.3 798.3,720.0 794.8,723.2 792.9,727.4 790.3,731.4 787.2,735.0 784.4,738.8 781.9,742.7 780.5,747.2 777.5,750.7 775.5,754.6 773.5,758.5 772.2,762.7 770.9,766.8 768.0,770.2 767.7,774.6 765.4,778.1 765.0,782.3 762.6,785.8 762.6,791.1 761.1,796.1 761.2,801.1 760.8,805.7 760.2,811.6 760.4,816.9 759.4,820.5" class="c"/>
<polygon points="347.8,598.8 348.3,601.6 347.4,605.7 349.4,610.2 348.4,615.1 350.5,619.3 350.3,623.5 351.3,627.4 351.7,631.6 353.5,635.4 356.3,638.8 358.0,642.6 359.5,646.7 360.2,651.3 363.9,654.3 365.1,658.8 368.9,661.9 370.9,666.2 373.5,670.2 375.2,675.0 380.1,677.5 381.7,681.7 385.4,684.3 387.2,688.7 391.7,690.6 393.8,694.8 397.2,697.5 398.9,701.7 402.9,703.9 404.3,708.1 408.2,710.4 409.4,714.7 413.0,717.1 415.0,721.7 419.0,724.7 419.9,729.8 422.9,733.5 426.6,736.8 429.1,740.0 430.9,744.0 434.7,746.4 436.2,750.6 440.0,753.0 441.5,757.1 445.2,760.4 446.8,765.2 451.4,767.8 452.2,773.0 456.5,775.7 457.5,780.7 461.6,783.7 462.8,788.5 466.1,791.8 467.0,796.2 469.5,800.8 472.4,805.3 472.6,810.2 474.7,813.6 471.6,817.6 469.4,820.5 696.7,820.5 693.9,817.3 692.2,811.7 694.0,807.1 693.0,801.5 696.7,796.2 696.5,792.0 699.4,788.6 700.5,784.1 704.1,780.8 705.1,776.0 708.6,772.8 710.0,768.1 713.1,764.3 716.9,761.1 718.4,756.1 721.0,752.9 725.0,750.8 726.5,746.6 730.3,744.2 732.9,740.9 735.7,737.7 737.1,733.1 741.7,731.3 743.6,726.9 747.3,724.3 749.1,720.1 753.3,718.1 755.5,713.8 758.2,710.0 760.2,706.0 762.8,702.2 764.9,698.2 766.1,693.3 768.8,689.4 771.4,685.4 774.8,681.9 778.7,678.7 780.8,675.2 782.1,671.1 786.2,669.0 788.6,665.7 789.6,661.4 791.8,658.0 794.8,654.3 799.0,651.3 801.7,647.5 802.8,642.7 805.9,639.2 807.2,634.9 810.5,631.6 811.0,627.2 813.6,623.6 814.6,619.5 816.0,615.1 816.7,610.3 817.5,605.7 816.6,601.6 817.3,598.8" fill="#a2ff5e"/>
<polyline points="347.8,598.8 348.3,601.6 347.4,605.7 349.4,610.2 348.4,615.1 350.5,619.3 350.3,623.5 351.3,627.4 351.7,631.6 353.5,635.4 356.3,638.8 358.0,642.6 359.5,646.7 360.2,651.3 363.9,654.3 365.1,658.8 368.9,661.9 370.9,666.2 373.5,670.2 375.2,675.0 380.1,677.5 381.7,681.7 385.4,684.3 387.2,688.7 391.7,690.6 393.8,694.8 397.2,697.5 398.9,701.7 402.9,703.9 404.3,708.1 408.2,710.4 409.4,714.7 413.0,717.1 415.0,721.7 419.0,724.7 419.9,729.8 422.9,733.5 426.6,736.8 429.1,740.0 430.9,744.0 434.7,746.4 436.2,750.6 440.0,753.0 441.5,757.1 445.2,760.4 446.8,765.2 451.4,767.8 452.2,773.0 456.5,775.7 457.5,780.7 461.6,783.7 462.8,788.5 466.1,791.8 467.0,796.2 469.5,800.8 472.4,805.3 472.6,810.2 474.7,813.6 471.6,817.6 469.4,820.5" class="c"/>
<polyline points="817.3,598.8 816.6,601.6 817.5,605.7 816.7,610.3 816.0,615.1 814.6,619.5 813.6,623.6 811.0,627.2 810.5,631.6 807.2,634.9 805.9,639.2 802.8,642.7 801.7,647.5 799.0,651.3 794.8,654.3 791.8,658.0 789.6,661.4 788.6,665.7 786.2,669.0 782.1,671.1 780.8,675.2 778.7,678.7 774.8,681.9 771.4,685.4 768.8,689.4 766.1,693.3 764.9,698.2 762.8,702.2 760.2,706.0 758.2,710.0 755.5,713.8 753.3,718.1 749.1,720.1 747.3,724.3 743.6,726.9 741.7,731.3 737.1,733.1 735.7,737.7 732.9,740.9 730.3,744.2 726.5,746.6 725.0,750.8 721.0,752.9 718.4,756.1 716.9,761.1 713.1,764.3 710.0,768.1 708.6,772.8 705.1,776.0 704.1,780.8 700.5,784.1 699.4,788.6 696.5,792.0 696.7,796.2 693.0,801.5 694.0,807.1 692.2,811.7 693.9,817.3 696.7,820.5" class="c"/>
<polygon points="364.5,598.8 365.9,601.5 365.0,605.8 367.3,610.1 368.4,614.9 369.7,619.3 371.5,623.2 373.1,627.4 376.5,630.7 377.7,635.5 381.6,638.7 383.3,642.6 386.1,645.9 390.0,648.2 392.9,651.6 395.1,655.8 399.4,658.0 401.2,661.9 405.0,663.8 407.2,667.5 410.4,670.2 414.6,671.9 416.7,676.0 420.8,677.7 423.2,681.6 426.5,684.3 430.5,686.4 433.5,689.6 436.6,692.8 440.9,694.5 443.7,698.0 447.7,700.1 450.3,703.7 453.5,706.6 457.4,708.7 460.9,711.4 464.4,714.2 467.0,718.2 471.2,719.4 473.9,722.8 478.0,724.4 481.3,727.2 484.3,730.6 487.9,732.8 491.7,734.6 494.8,737.2 498.9,738.9 502.8,740.7 505.8,743.8 509.4,745.6 513.4,746.7 516.6,749.3 520.6,750.4 524.3,752.3 527.5,755.2 532.0,755.5 535.1,758.6 539.2,759.3 542.8,760.6 545.6,763.1 550.0,764.7 554.5,765.1 557.8,767.7 561.8,768.1 565.5,769.2 570.4,769.4 575.3,771.0 580.1,769.7 585.0,770.6 590.0,770.8 595.2,769.4 600.1,770.5 604.3,768.6 609.4,768.3 613.2,765.7 617.7,763.1 620.0,760.4 623.1,758.7 627.0,757.9 630.1,754.6 635.3,753.4 637.9,750.6 641.9,749.7 645.1,746.7 649.8,746.0 653.4,742.9 658.2,742.0 662.5,739.9 666.0,736.4 669.5,734.7 672.9,732.6 677.4,732.1 680.4,728.8 684.9,728.1 688.0,724.9 692.0,723.7 695.0,720.8 698.8,719.8 701.4,717.3 705.9,715.4 709.0,712.2 711.5,708.9 714.1,705.9 717.7,703.9 719.8,700.3 723.4,698.2 725.9,694.4 730.3,692.8 733.0,689.1 737.0,686.9 739.8,683.3 744.0,681.6 746.2,677.6 749.8,674.5 754.1,672.2 756.5,668.0 760.3,665.3 762.7,661.4 766.7,658.9 769.0,654.9 773.1,652.6 776.2,649.3 778.9,645.8 781.5,642.4 783.6,638.8 787.3,635.5 788.9,630.9 792.1,627.5 793.5,623.2 796.4,619.7 796.7,614.9 799.1,610.4 798.9,605.5 800.7,601.7 800.6,598.8" fill="#e5ff1a"/>
<polyline points="364.5,598.8 365.9,601.5 365.0,605.8 367.3,610.1 368.4,614.9 369.7,619.3 371.5,623.2 373.1,627.4 376.5,630.7 377.7,635.5 381.6,638.7 383.3,642.6 386.1,645.9 390.0,648.2 392.9,651.6 395.1,655.8 399.4,658.0 401.2,661.9 405.0,663.8 407.2,667.5 410.4,670.2 414.6,671.9 416.7,676.0 420.8,677.7 423.2,681.6 426.5,684.3 430.5,686.4 433.5,689.6 436.6,692.8 440.9,694.5 443.7,698.0 447.7,700.1 450.3,703.7 453.5,706.6 457.4,708.7 460.9,711.4 464.4,714.2 467.0,718.2 471.2,719.4 473.9,722.8 478.0,724.4 481.3,727.2 484.3,730.6 487.9,732.8 491.7,734.6 494.8,737.2 498.9,738.9 502.8,740.7 505.8,743.8 509.4,745.6 513.4,746.7 516.6,749.3 520.6,750.4 524.3,752.3 527.5,755.2 532.0,755.5 535.1,758.6 539.2,759.3 542.8,760.6 545.6,763.1 550.0,764.7 554.5,765.1 557.8,767.7 561.8,768.1 565.5,769.2 570.4,769.4 575.3,771.0 580.1,769.7 585.0,770.6 590.0,770.8 595.2,769.4 600.1,770.5 604.3,768.6 609.4,768.3 613.2,765.7 617.7,763.1 620.0,760.4 623.1,758.7 627.0,757.9 630.1,754.6 635.3,753.4 637.9,750.6 641.9,749.7 645.1,746.7 649.8,746.0 653.4,742.9 658.2,742.0 662.5,739.9 666.0,736.4 669.5,734.7 672.9,732.6 677.4,732.1 680.4,728.8 684.9,728.1 688.0,724.9 692.0,723.7 695.0,720.8 698.8,719.8 701.4,717.3 705.9,715.4 709.0,712.2 711.5,708.9 714.1,705.9 717.7,703.9 719.8,700.3 723.4,698.2 725.9,694.4 730.3,692.8 733.0,689.1 737.0,686.9 739.8,683.3 744.0,681.6 746.2,677.6 749.8,674.5 754.1,672.2 756.5,668.0 760.3,665.3 762.7,661.4 766.7,658.9 769.0,654.9 773.1,652.6 776.2,649.3 778.9,645.8 781.5,642.4 783.6,638.8 787.3,635.5 788.9,630.9 792.1,627.5 793.5,623.2 796.4,619.7 796.7,614.9 799.1,610.4 798.9,605.5 800.7,601.7 800.6,598.8" class="c"/>
<polygon points="378.2,598.8 378.9,601.9 380.6,605.9 384.1,610.0 385.8,615.2 389.6,619.0 391.2,623.1 394.9,625.7 397.3,629.7 400.9,632.8 405.0,635.5 408.1,639.6 411.3,641.8 414.9,643.7 417.7,646.9 422.0,648.2 425.4,650.7 428.2,654.3 432.5,655.9 435.8,659.0 439.7,660.5 442.8,663.7 447.2,664.6 450.8,667.1 454.2,670.1 457.9,672.6 462.1,673.9 465.5,676.7 469.5,678.0 473.7,679.8 477.2,682.7 480.9,685.0 485.2,686.2 488.5,689.1 493.0,689.8 496.6,692.5 500.6,694.3 504.8,694.9 508.4,697.2 512.7,697.7 516.3,700.2 520.7,700.7 524.6,702.4 528.7,703.0 532.2,705.2 536.3,705.1 540.6,707.5 545.6,707.7 549.8,709.9 554.5,710.0 558.3,712.2 562.0,713.4 565.7,712.9 570.5,715.1 573.8,716.2 580.0,715.3 583.4,716.0 587.2,714.3 591.5,713.9 596.2,713.7 601.1,713.6 606.0,713.0 610.8,712.7 615.0,710.7 619.3,711.1 623.8,708.9 628.1,707.7 632.7,707.9 636.3,705.3 640.7,705.2 644.3,702.6 648.7,702.0 652.7,700.0 657.0,699.0 661.0,697.0 665.0,694.9 669.6,694.0 673.6,691.6 678.1,690.2 682.1,688.7 685.6,686.2 689.9,685.2 693.7,682.9 697.4,680.3 701.4,678.3 705.8,677.2 709.5,674.5 712.8,672.1 716.8,670.7 719.9,667.6 724.1,666.3 727.0,663.0 731.3,661.9 734.7,659.7 737.5,656.7 741.2,655.3 744.2,651.3 748.8,649.7 751.4,645.8 755.4,643.8 758.1,640.4 761.7,638.2 764.7,635.5 768.0,632.2 771.1,629.0 773.5,625.3 775.4,621.6 778.3,618.8 780.7,615.9 781.7,610.5 783.2,605.7 784.6,601.6 785.9,598.8" fill="#ffd500"/>
<polyline points="378.2,598.8 378.9,601.9 380.6,605.9 384.1,610.0 385.8,615.2 389.6,619.0 391.2,623.1 394.9,625.7 397.3,629.7 400.9,632.8 405.0,635.5 408.1,639.6 411.3,641.8 414.9,643.7 417.7,646.9 422.0,648.2 425.4,650.7 428.2,654.3 432.5,655.9 435.8,659.0 439.7,660.5 442.8,663.7 447.2,664.6 450.8,667.1 454.2,670.1 457.9,672.6 462.1,673.9 465.5,676.7 469.5,678.0 473.7,679.8 477.2,682.7 480.9,685.0 485.2,686.2 488.5,689.1 493.0,689.8 496.6,692.5 500.6,694.3 504.8,694.9 508.4,697.2 512.7,697.7 516.3,700.2 520.7,700.7 524.6,702.4 528.7,703.0 532.2,705.2 536.3,705.1 540.6,707.5 545.6,707.7 549.8,709.9 554.5,710.0 558.3,712.2 562.0,713.4 565.7,712.9 570.5,715.1 573.8,716.2 580.0,715.3 583.4,716.0 587.2,714.3 591.5,713.9 596.2,713.7 601.1,713.6 606.0,713.0 610.8,712.7 615.0,710.7 619.3,711.1 623.8,708.9 628.1,707.7 632.7,707.9 636.3,705.3 640.7,705.2 644.3,702.6 648.7,702.0 652.7,700.0 657.0,699.0 661.0,697.0 665.0,694.9 669.6,694.0 673.6,691.6 678.1,690.2 682.1,688.7 685.6,686.2 689.9,685.2 693.7,682.9 697.4,680.3 701.4,678.3 705.8,677.2 709.5,674.5 712.8,672.1 716.8,670.7 719.9,667.6 724.1,666.3 727.0,663.0 731.3,661.9 734.7,659.7 737.5,656.7 741.2,655.3 744.2,651.3 748.8,649.7 751.4,645.8 755.4,643.8 758.1,640.4 761.7,638.2 764.7,635.5 768.0,632.2 771.1,629.0 773.5,625.3 775.4,621.6 778.3,618.8 780.7,615.9 781.7,610.5 783.2,605.7 784.6,601.6 785.9,598.8" class="c"/>
<polygon points="391.0,598.8 393.5,600.6 395.2,604.5 399.3,607.5 402.9,611.5 406.3,615.9 409.9,617.2 411.7,620.8 415.7,622.1 418.1,625.5 422.1,627.2 424.8,630.6 429.0,632.1 432.0,635.5 435.9,636.6 438.8,639.8 443.0,641.0 446.3,643.9 450.6,645.1 454.5,646.8 457.8,649.8 462.1,650.5 465.4,652.9 469.5,654.3 473.2,656.4 477.3,657.3 481.1,658.6 484.4,661.2 488.6,661.7 492.5,663.7 497.0,664.1 500.8,665.8 504.9,667.0 509.2,667.8 513.5,668.8 517.8,670.0 522.5,669.8 526.9,671.3 531.4,672.0 536.2,671.9 539.9,673.3 544.0,673.2 548.2,673.6 552.3,675.0 556.6,674.7 560.7,676.1 565.0,675.0 568.9,676.8 572.9,675.7 576.5,677.1 580.0,676.5 584.9,677.6 589.2,676.5 593.1,676.4 596.9,676.8 600.7,675.7 604.9,676.2 609.4,675.5 613.3,674.2 617.7,674.7 622.1,673.8 626.8,674.1 631.3,672.7 635.9,672.7 640.3,671.3 644.7,671.3 648.5,669.9 653.2,668.9 657.7,668.8 661.5,666.9 665.4,665.6 669.5,664.9 673.5,663.4 678.1,662.8 682.1,661.6 686.1,659.6 690.3,658.1 694.9,657.4 699.0,655.3 703.6,654.7 707.4,652.2 711.2,650.4 715.8,649.0 719.5,646.3 724.0,645.0 727.4,641.9 731.7,640.4 734.8,637.1 739.2,635.7 742.9,633.0 746.5,630.0 750.1,627.1 753.0,623.5 756.5,620.8 759.9,618.3 762.2,615.3 766.8,611.1 768.6,605.5 772.0,602.0 773.1,598.8" fill="#ff9100"/>
<polyline points="391.0,598.8 393.5,600.6 395.2,604.5 399.3,607.5 402.9,611.5 406.3,615.9 409.9,617.2 411.7,620.8 415.7,622.1 418.1,625.5 422.1,627.2 424.8,630.6 429.0,632.1 432.0,635.5 435.9,636.6 438.8,639.8 443.0,641.0 446.3,643.9 450.6,645.1 454.5,646.8 457.8,649.8 462.1,650.5 465.4,652.9 469.5,654.3 473.2,656.4 477.3,657.3 481.1,658.6 484.4,661.2 488.6,661.7 492.5,663.7 497.0,664.1 500.8,665.8 504.9,667.0 509.2,667.8 513.5,668.8 517.8,670.0 522.5,669.8 526.9,671.3 531.4,672.0 536.2,671.9 539.9,673.3 544.0,673.2 548.2,673.6 552.3,675.0 556.6,674.7 560.7,676.1 565.0,675.0 568.9,676.8 572.9,675.7 576.5,677.1 580.0,676.5 584.9,677.6 589.2,676.5 593.1,676.4 596.9,676.8 600.7,675.7 604.9,676.2 609.4,675.5 613.3,674.2 617.7,674.7 622.1,673.8 626.8,674.1 631.3,672.7 635.9,672.7 640.3,671.3 644.7,671.3 648.5,669.9 653.2,668.9 657.7,668.8 661.5,666.9 665.4,665.6 669.5,664.9 673.5,663.4 678.1,662.8 682.1,661.6 686.1,659.6 690.3,658.1 694.9,657.4 699.0,655.3 703.6,654.7 707.4,652.2 711.2,650.4 715.8,649.0 719.5,646.3 724.0,645.0 727.4,641.9 731.7,640.4 734.8,637.1 739.2,635.7 742.9,633.0 746.5,630.0 750.1,627.1 753.0,623.5 756.5,620.8 759.9,618.3 762.2,615.3 766.8,611.1 768.6,605.5 772.0,602.0 773.1,598.8" class="c"/>
<polygon points="405.7,598.8 407.9,600.0 410.3,602.6 413.8,604.6 416.9,608.0 421.0,610.3 424.7,613.0 428.3,615.3 431.5,618.0 435.3,619.6 438.7,622.0 442.6,623.6 446.0,626.0 450.0,627.2 453.6,629.4 457.7,630.6 461.4,632.6 465.6,633.6 469.4,635.5 473.5,636.4 477.4,637.8 481.2,639.1 485.6,639.9 489.6,641.5 493.9,641.7 498.0,642.6 502.3,643.2 506.7,644.3 510.6,644.1 514.4,644.5 518.3,644.7 522.3,644.0 526.5,643.8 531.1,644.2 536.1,643.7 540.0,644.1 544.2,644.1 548.7,643.7 553.3,643.1 558.1,643.4 562.8,643.0 567.4,643.2 571.9,642.6 576.1,643.2 580.0,642.7 584.9,643.4 589.5,643.1 593.6,644.0 597.6,643.9 601.5,644.1 605.3,644.9 609.4,645.1 613.6,644.7 617.6,645.0 621.7,645.5 625.8,644.9 630.0,645.4 634.3,644.9 638.8,645.0 642.9,644.4 647.3,644.6 651.7,644.2 656.2,643.1 660.8,643.1 665.3,642.2 669.8,641.9 674.0,640.6 678.4,639.9 682.9,639.6 687.1,638.0 691.6,637.7 695.7,636.2 699.8,635.0 703.7,633.9 707.5,633.3 712.0,631.4 716.3,630.3 720.1,628.5 724.0,627.2 727.3,625.0 731.2,623.6 735.4,620.9 739.4,617.6 743.6,614.9 747.6,612.4 750.4,609.4 754.8,605.5 757.4,601.4 759.4,598.8" fill="#ff4c00"/>
<polyline points="405.7,598.8 407.9,600.0 410.3,602.6 413.8,604.6 416.9,608.0 421.0,610.3 424.7,613.0 428.3,615.3 431.5,618.0 435.3,619.6 438.7,622.0 442.6,623.6 446.0,626.0 450.0,627.2 453.6,629.4 457.7,630.6 461.4,632.6 465.6,633.6 469.4,635.5 473.5,636.4 477.4,637.8 481.2,639.1 485.6,639.9 489.6,641.5 493.9,641.7 498.0,642.6 502.3,643.2 506.7,644.3 510.6,644.1 514.4,644.5 518.3,644.7 522.3,644.0 526.5,643.8 531.1,644.2 536.1,643.7 540.0,644.1 544.2,644.1 548.7,643.7 553.3,643.1 558.1,643.4 562.8,643.0 567.4,643.2 571.9,642.6 576.1,643.2 580.0,642.7 584.9,643.4 589.5,643.1 593.6,644.0 597.6,643.9 601.5,644.1 605.3,644.9 609.4,645.1 613.6,644.7 617.6,645.0 621.7,645.5 625.8,644.9 630.0,645.4 634.3,644.9 638.8,645.0 642.9,644.4 647.3,644.6 651.7,644.2 656.2,643.1 660.8,643.1 665.3,642.2 669.8,641.9 674.0,640.6 678.4,639.9 682.9,639.6 687.1,638.0 691.6,637.7 695.7,636.2 699.8,635.0 703.7,633.9 707.5,633.3 712.0,631.4 716.3,630.3 720.1,628.5 724.0,627.2 727.3,625.0 731.2,623.6 735.4,620.9 739.4,617.6 743.6,614.9 747.6,612.4 750.4,609.4 754.8,605.5 757.4,601.4 759.4,598.8" class="c"/>
<polygon points="421.4,598.8 424.3,600.7 428.0,604.0 433.1,606.6 437.9,609.8 441.6,611.0 445.4,612.3 449.2,614.1 453.4,615.0 457.4,616.6 461.5,617.8 465.8,618.3 469.9,619.8 474.2,620.8 478.6,621.1 482.8,622.2 487.0,622.2 491.8,622.9 496.5,622.8 501.1,623.2 505.8,622.5 510.6,622.7 514.8,621.7 519.2,621.5 523.5,620.1 528.0,619.7 532.1,618.4 536.1,617.7 540.6,616.4 544.6,614.2 548.6,612.7 552.4,611.5 555.6,609.3 560.9,606.9 565.1,603.9 568.1,601.5 570.4,598.8" fill="#ff0800"/>
<polyline points="421.4,598.8 424.3,600.7 428.0,604.0 433.1,606.6 437.9,609.8 441.6,611.0 445.4,612.3 449.2,614.1 453.4,615.0 457.4,616.6 461.5,617.8 465.8,618.3 469.9,619.8 474.2,620.8 478.6,621.1 482.8,622.2 487.0,622.2 491.8,622.9 496.5,622.8 501.1,623.2 505.8,622.5 510.6,622.7 514.8,621.7 519.2,621.5 523.5,620.1 528.0,619.7 532.1,618.4 536.1,617.7 540.6,616.4 544.6,614.2 548.6,612.7 552.4,611.5 555.6,609.3 560.9,606.9 565.1,603.9 568.1,601.5 570.4,598.8" class="c"/>
<polygon points="596.7,598.8 599.7,601.6 605.4,605.9 608.6,606.8 612.1,608.5 616.2,609.7 620.5,610.7 624.7,612.4 629.0,613.3 633.1,615.0 637.7,615.7 641.9,617.5 646.3,618.9 650.6,619.4 654.4,620.7 659.7,621.3 664.5,621.6 669.1,622.6 674.1,622.2 678.6,622.5 683.2,622.0 688.0,621.0 692.9,620.8 697.6,619.2 701.6,618.2 705.8,617.3 709.8,615.6 713.9,614.2 717.8,613.3 721.1,611.4 725.9,609.7 730.1,607.6 733.6,605.2 736.7,603.4 742.0,601.1 744.7,598.8" fill="#ff0800"/>
<polyline points="596.7,598.8 599.7,601.6 605.4,605.9 608.6,606.8 612.1,608.5 616.2,609.7 620.5,610.7 624.7,612.4 629.0,613.3 633.1,615.0 637.7,615.7 641.9,617.5 646.3,618.9 650.6,619.4 654.4,620.7 659.7,621.3 664.5,621.6 669.1,622.6 674.1,622.2 678.6,622.5 683.2,622.0 688.0,621.0 692.9,620.8 697.6,619.2 701.6,618.2 705.8,617.3 709.8,615.6 713.9,614.2 717.8,613.3 721.1,611.4 725.9,609.7 730.1,607.6 733.6,605.2 736.7,603.4 742.0,601.1 744.7,598.8" class="c"/>
<polygon points="446.9,598.8 450.0,599.6 454.3,601.2 459.0,602.1 463.7,603.4 468.8,603.7 473.3,604.8 478.4,605.3 483.0,605.9 487.9,606.3 492.9,606.9 498.0,606.4 503.0,606.3 507.9,605.7 512.4,604.5 517.0,603.7 521.1,602.1 528.2,598.8" fill="#c30000"/>
<polyline points="446.9,598.8 450.0,599.6 454.3,601.2 459.0,602.1 463.7,603.4 468.8,603.7 473.3,604.8 478.4,605.3 483.0,605.9 487.9,606.3 492.9,606.9 498.0,606.4 503.0,606.3 507.9,605.7 512.4,604.5 517.0,603.7 521.1,602.1 528.2,598.8" class="c"/>
<polygon points="636.9,598.8 640.3,600.3 645.0,601.3 649.6,602.8 654.5,603.6 659.2,605.0 664.0,605.4 668.9,606.1 674.1,607.0 680.0,606.7 686.0,605.6 691.9,604.7 697.6,603.9 702.8,602.6 708.0,601.2 714.2,599.8 719.2,598.8" fill="#c30000"/>
<polyline points="636.9,598.8 640.3,600.3 645.0,601.3 649.6,602.8 654.5,603.6 659.2,605.0 664.0,605.4 668.9,606.1 674.1,607.0 680.0,606.7 686.0,605.6 691.9,604.7 697.6,603.9 702.8,602.6 708.0,601.2 714.2,599.8 719.2,598.8" class="c"/>
<path d="M106.0 598.8H1060.7M106.0 820.5H1060.7" class="fb"/>
<rect x="106.0" y="562.2" width="954.1" height="295.0" class="ax"/>
<text transform="translate(180.2 892.8) scale(1 1.075)" text-anchor="middle" class="tk">146</text>
<text transform="translate(327.0 892.8) scale(1 1.075)" text-anchor="middle" class="tk">148</text>
<text transform="translate(473.8 892.8) scale(1 1.075)" text-anchor="middle" class="tk">150</text>
<text transform="translate(620.5 892.8) scale(1 1.075)" text-anchor="middle" class="tk">152</text>
<text transform="translate(767.3 892.8) scale(1 1.075)" text-anchor="middle" class="tk">154</text>
<text transform="translate(914.1 892.8) scale(1 1.075)" text-anchor="middle" class="tk">156</text>
<text transform="translate(1060.9 892.8) scale(1 1.075)" text-anchor="middle" class="tk">158</text>
<path d="M179.4 562.2v10M179.4 857.2v-10M326.2 562.2v10M326.2 857.2v-10M473.0 562.2v10M473.0 857.2v-10M619.7 562.2v10M619.7 857.2v-10M766.5 562.2v10M766.5 857.2v-10M913.3 562.2v10M913.3 857.2v-10M1060.1 562.2v10M1060.1 857.2v-10M106.0 598.8h9M106.0 820.5h9M1060.1 598.8h-9M1060.1 820.5h-9" class="ax"/>
<text transform="translate(94.2 573.1) scale(1 1.075)" text-anchor="end" class="tk">3.5</text>
<text transform="translate(94.2 610.0) scale(1 1.075)" text-anchor="end" class="tk">3</text>
<text transform="translate(94.2 646.9) scale(1 1.075)" text-anchor="end" class="tk">2.5</text>
<text transform="translate(94.2 683.7) scale(1 1.075)" text-anchor="end" class="tk">2</text>
<text transform="translate(94.2 720.6) scale(1 1.075)" text-anchor="end" class="tk">1.5</text>
<text transform="translate(94.2 757.5) scale(1 1.075)" text-anchor="end" class="tk">1</text>
<text transform="translate(94.2 794.4) scale(1 1.075)" text-anchor="end" class="tk">0.5</text>
<text transform="translate(94.2 831.2) scale(1 1.075)" text-anchor="end" class="tk">0</text>
<text transform="translate(94.2 868.1) scale(1 1.075)" text-anchor="end" class="tk">-0.5</text>
<text transform="translate(585.3 934.8) scale(1 1.1)" text-anchor="middle" class="lb">x [m]</text>
<text transform="translate(37.9 709.4) rotate(-90) scale(1 1.1)" text-anchor="middle" class="lb">z [m]</text>
<text transform="translate(578.0 546.2) scale(1.03 1)" text-anchor="middle" class="ti">Location B</text>
<rect x="104.6" y="1092.7" width="954.8" height="221.4" fill="#0000c3"/>
<polygon points="150.9,1092.7 150.2,1094.9 150.6,1097.4 150.3,1100.2 151.6,1103.2 150.3,1106.5 151.5,1110.0 150.4,1113.7 150.4,1117.6 151.5,1121.6 150.9,1125.8 151.4,1130.2 151.5,1134.7 151.0,1139.2 151.6,1143.9 150.9,1148.6 150.6,1153.4 151.9,1158.1 151.9,1163.0 152.0,1167.8 150.7,1172.6 151.7,1177.3 150.8,1182.0 152.0,1186.7 150.8,1191.2 151.8,1195.7 151.1,1200.0 150.9,1204.0 152.2,1208.2 150.9,1212.5 152.1,1216.9 151.2,1221.5 152.1,1226.1 151.8,1230.7 150.8,1235.4 151.0,1240.2 150.6,1244.9 151.8,1249.7 150.5,1254.4 151.6,1259.1 150.6,1263.8 151.7,1268.3 150.6,1272.8 151.9,1277.2 151.7,1281.5 151.4,1285.6 151.6,1289.6 151.8,1293.4 150.3,1297.1 151.2,1300.5 150.2,1303.7 150.2,1306.7 151.7,1309.5 150.6,1311.9 150.9,1314.1 1006.2,1314.1 1006.7,1311.9 1005.8,1309.5 1006.9,1306.8 1006.5,1303.8 1005.8,1300.7 1007.0,1297.3 1005.7,1293.7 1007.0,1289.9 1006.7,1286.0 1005.6,1281.9 1006.9,1277.6 1006.0,1273.3 1006.8,1268.8 1007.0,1264.3 1005.8,1259.7 1006.3,1255.0 1007.2,1250.3 1006.1,1245.6 1007.0,1240.8 1006.2,1236.1 1007.5,1231.4 1006.5,1226.7 1007.1,1222.0 1006.6,1217.5 1007.8,1213.0 1006.3,1209.2 1007.6,1205.3 1006.8,1201.2 1007.7,1197.0 1007.1,1192.7 1008.0,1188.3 1007.3,1183.7 1008.2,1179.2 1007.3,1174.5 1008.9,1169.9 1007.8,1165.2 1009.0,1160.5 1008.8,1155.8 1008.2,1151.1 1008.6,1146.5 1008.2,1141.9 1009.7,1137.5 1008.6,1133.1 1009.9,1128.8 1008.8,1124.6 1009.9,1120.6 1009.4,1116.6 1010.5,1112.9 1009.6,1109.4 1010.3,1106.0 1009.7,1102.8 1010.6,1100.0 1009.8,1097.2 1011.1,1094.9 1010.5,1092.7" fill="#0008ff"/>
<polyline points="150.9,1092.7 150.2,1094.9 150.6,1097.4 150.3,1100.2 151.6,1103.2 150.3,1106.5 151.5,1110.0 150.4,1113.7 150.4,1117.6 151.5,1121.6 150.9,1125.8 151.4,1130.2 151.5,1134.7 151.0,1139.2 151.6,1143.9 150.9,1148.6 150.6,1153.4 151.9,1158.1 151.9,1163.0 152.0,1167.8 150.7,1172.6 151.7,1177.3 150.8,1182.0 152.0,1186.7 150.8,1191.2 151.8,1195.7 151.1,1200.0 150.9,1204.0 152.2,1208.2 150.9,1212.5 152.1,1216.9 151.2,1221.5 152.1,1226.1 151.8,1230.7 150.8,1235.4 151.0,1240.2 150.6,1244.9 151.8,1249.7 150.5,1254.4 151.6,1259.1 150.6,1263.8 151.7,1268.3 150.6,1272.8 151.9,1277.2 151.7,1281.5 151.4,1285.6 151.6,1289.6 151.8,1293.4 150.3,1297.1 151.2,1300.5 150.2,1303.7 150.2,1306.7 151.7,1309.5 150.6,1311.9 150.9,1314.1" class="c"/>
<polyline points="1010.5,1092.7 1011.1,1094.9 1009.8,1097.2 1010.6,1100.0 1009.7,1102.8 1010.3,1106.0 1009.6,1109.4 1010.5,1112.9 1009.4,1116.6 1009.9,1120.6 1008.8,1124.6 1009.9,1128.8 1008.6,1133.1 1009.7,1137.5 1008.2,1141.9 1008.6,1146.5 1008.2,1151.1 1008.8,1155.8 1009.0,1160.5 1007.8,1165.2 1008.9,1169.9 1007.3,1174.5 1008.2,1179.2 1007.3,1183.7 1008.0,1188.3 1007.1,1192.7 1007.7,1197.0 1006.8,1201.2 1007.6,1205.3 1006.3,1209.2 1007.8,1213.0 1006.6,1217.5 1007.1,1222.0 1006.5,1226.7 1007.5,1231.4 1006.2,1236.1 1007.0,1240.8 1006.1,1245.6 1007.2,1250.3 1006.3,1255.0 1005.8,1259.7 1007.0,1264.3 1006.8,1268.8 1006.0,1273.3 1006.9,1277.6 1005.6,1281.9 1006.7,1286.0 1007.0,1289.9 1005.7,1293.7 1007.0,1297.3 1005.8,1300.7 1006.5,1303.8 1006.9,1306.8 1005.8,1309.5 1006.7,1311.9 1006.2,1314.1" class="c"/>
<polygon points="213.6,1092.7 214.4,1094.9 213.1,1097.3 213.1,1100.1 214.1,1103.0 213.2,1106.3 213.4,1109.7 214.2,1113.3 213.1,1117.1 214.3,1121.1 213.2,1125.2 214.6,1129.5 213.7,1133.9 214.7,1138.3 213.8,1142.9 214.5,1147.6 213.6,1152.3 213.5,1157.0 215.1,1161.7 213.6,1166.5 214.7,1171.2 213.8,1176.0 214.8,1180.6 215.3,1185.2 213.9,1189.8 215.0,1194.2 214.6,1198.5 215.4,1202.7 214.6,1206.8 215.6,1210.7 214.3,1215.2 216.0,1219.8 214.8,1224.5 215.7,1229.2 216.3,1234.0 215.3,1238.8 216.0,1243.6 215.2,1248.5 216.5,1253.3 215.9,1258.1 216.9,1262.8 215.9,1267.5 215.9,1272.1 217.0,1276.5 217.4,1280.9 217.3,1285.1 216.6,1289.2 217.6,1293.0 216.4,1296.8 216.7,1300.3 218.0,1303.5 216.8,1306.6 218.1,1309.4 216.8,1311.9 217.6,1314.1 940.4,1314.1 940.0,1311.9 941.3,1309.4 941.3,1306.6 941.2,1303.6 941.4,1300.3 941.7,1296.8 941.7,1293.1 941.0,1289.1 942.0,1285.1 942.2,1280.9 941.4,1276.5 943.0,1272.1 942.0,1267.5 943.0,1262.8 943.7,1258.1 942.7,1253.3 944.1,1248.5 943.1,1243.6 944.1,1238.8 943.5,1233.9 943.9,1229.2 944.7,1224.5 944.3,1219.8 945.5,1215.2 944.2,1210.7 945.7,1206.8 945.7,1202.8 944.5,1198.5 944.7,1194.2 946.0,1189.8 945.5,1185.2 946.4,1180.6 945.5,1175.9 946.6,1171.2 945.9,1166.5 946.3,1161.7 946.9,1157.0 947.1,1152.3 947.4,1147.6 946.4,1142.9 947.9,1138.4 946.7,1133.9 947.3,1129.5 947.3,1125.2 948.5,1121.1 947.3,1117.1 948.6,1113.3 947.5,1109.7 947.5,1106.2 947.6,1103.0 948.0,1100.1 948.8,1097.4 947.8,1094.9 948.6,1092.7" fill="#004dff"/>
<polyline points="213.6,1092.7 214.4,1094.9 213.1,1097.3 213.1,1100.1 214.1,1103.0 213.2,1106.3 213.4,1109.7 214.2,1113.3 213.1,1117.1 214.3,1121.1 213.2,1125.2 214.6,1129.5 213.7,1133.9 214.7,1138.3 213.8,1142.9 214.5,1147.6 213.6,1152.3 213.5,1157.0 215.1,1161.7 213.6,1166.5 214.7,1171.2 213.8,1176.0 214.8,1180.6 215.3,1185.2 213.9,1189.8 215.0,1194.2 214.6,1198.5 215.4,1202.7 214.6,1206.8 215.6,1210.7 214.3,1215.2 216.0,1219.8 214.8,1224.5 215.7,1229.2 216.3,1234.0 215.3,1238.8 216.0,1243.6 215.2,1248.5 216.5,1253.3 215.9,1258.1 216.9,1262.8 215.9,1267.5 215.9,1272.1 217.0,1276.5 217.4,1280.9 217.3,1285.1 216.6,1289.2 217.6,1293.0 216.4,1296.8 216.7,1300.3 218.0,1303.5 216.8,1306.6 218.1,1309.4 216.8,1311.9 217.6,1314.1" class="c"/>
<polyline points="948.6,1092.7 947.8,1094.9 948.8,1097.4 948.0,1100.1 947.6,1103.0 947.5,1106.2 947.5,1109.7 948.6,1113.3 947.3,1117.1 948.5,1121.1 947.3,1125.2 947.3,1129.5 946.7,1133.9 947.9,1138.4 946.4,1142.9 947.4,1147.6 947.1,1152.3 946.9,1157.0 946.3,1161.7 945.9,1166.5 946.6,1171.2 945.5,1175.9 946.4,1180.6 945.5,1185.2 946.0,1189.8 944.7,1194.2 944.5,1198.5 945.7,1202.8 945.7,1206.8 944.2,1210.7 945.5,1215.2 944.3,1219.8 944.7,1224.5 943.9,1229.2 943.5,1233.9 944.1,1238.8 943.1,1243.6 944.1,1248.5 942.7,1253.3 943.7,1258.1 943.0,1262.8 942.0,1267.5 943.0,1272.1 941.4,1276.5 942.2,1280.9 942.0,1285.1 941.0,1289.1 941.7,1293.1 941.7,1296.8 941.4,1300.3 941.2,1303.6 941.3,1306.6 941.3,1309.4 940.0,1311.9 940.4,1314.1" class="c"/>
<polygon points="259.4,1092.7 259.0,1095.0 260.3,1097.8 260.3,1101.1 259.5,1104.8 260.7,1108.8 260.9,1113.1 259.7,1117.6 261.0,1122.3 260.4,1127.1 261.4,1131.8 260.7,1136.7 261.9,1141.4 261.2,1146.0 261.2,1150.4 261.0,1154.6 262.5,1158.4 262.6,1162.8 262.0,1167.2 262.9,1171.4 262.3,1175.5 263.4,1179.5 263.7,1183.4 262.5,1187.4 263.9,1191.2 264.2,1195.0 263.3,1198.9 264.8,1202.7 263.5,1206.8 264.8,1210.7 264.6,1214.8 265.6,1218.7 266.3,1222.7 265.3,1226.9 265.9,1230.9 267.2,1234.9 267.0,1239.0 267.5,1243.0 268.5,1247.0 268.0,1251.1 269.9,1255.0 269.2,1259.0 270.6,1262.9 269.5,1267.5 271.3,1272.1 270.6,1277.1 270.9,1282.0 271.9,1286.9 272.7,1291.8 271.6,1296.5 272.8,1300.9 272.1,1305.0 272.2,1308.6 272.6,1311.7 273.3,1314.1 887.4,1314.1 887.7,1311.6 886.8,1308.5 887.2,1304.9 887.1,1300.9 888.0,1296.5 887.2,1291.8 888.6,1287.0 888.5,1282.0 887.8,1277.0 888.9,1272.2 888.1,1267.4 889.1,1263.0 888.2,1259.0 889.5,1255.0 889.2,1251.0 890.2,1247.0 890.6,1243.0 890.3,1238.9 891.5,1234.9 891.0,1230.8 892.3,1226.9 892.0,1222.7 893.6,1218.8 892.9,1214.7 893.6,1210.7 894.7,1206.7 894.2,1202.7 895.0,1198.9 896.2,1195.1 895.7,1191.1 897.4,1187.4 897.0,1183.4 898.5,1179.5 898.4,1175.5 899.7,1171.4 900.1,1167.2 899.3,1162.8 900.7,1158.4 901.1,1154.6 900.4,1150.4 901.5,1146.0 901.7,1141.4 901.9,1136.7 901.5,1131.8 902.5,1127.1 901.6,1122.3 902.8,1117.6 901.7,1113.1 902.8,1108.8 902.3,1104.8 903.5,1101.2 902.3,1097.8 903.2,1095.0 903.0,1092.7" fill="#0090ff"/>
<polyline points="259.4,1092.7 259.0,1095.0 260.3,1097.8 260.3,1101.1 259.5,1104.8 260.7,1108.8 260.9,1113.1 259.7,1117.6 261.0,1122.3 260.4,1127.1 261.4,1131.8 260.7,1136.7 261.9,1141.4 261.2,1146.0 261.2,1150.4 261.0,1154.6 262.5,1158.4 262.6,1162.8 262.0,1167.2 262.9,1171.4 262.3,1175.5 263.4,1179.5 263.7,1183.4 262.5,1187.4 263.9,1191.2 264.2,1195.0 263.3,1198.9 264.8,1202.7 263.5,1206.8 264.8,1210.7 264.6,1214.8 265.6,1218.7 266.3,1222.7 265.3,1226.9 265.9,1230.9 267.2,1234.9 267.0,1239.0 267.5,1243.0 268.5,1247.0 268.0,1251.1 269.9,1255.0 269.2,1259.0 270.6,1262.9 269.5,1267.5 271.3,1272.1 270.6,1277.1 270.9,1282.0 271.9,1286.9 272.7,1291.8 271.6,1296.5 272.8,1300.9 272.1,1305.0 272.2,1308.6 272.6,1311.7 273.3,1314.1" class="c"/>
<polyline points="903.0,1092.7 903.2,1095.0 902.3,1097.8 903.5,1101.2 902.3,1104.8 902.8,1108.8 901.7,1113.1 902.8,1117.6 901.6,1122.3 902.5,1127.1 901.5,1131.8 901.9,1136.7 901.7,1141.4 901.5,1146.0 900.4,1150.4 901.1,1154.6 900.7,1158.4 899.3,1162.8 900.1,1167.2 899.7,1171.4 898.4,1175.5 898.5,1179.5 897.0,1183.4 897.4,1187.4 895.7,1191.1 896.2,1195.1 895.0,1198.9 894.2,1202.7 894.7,1206.7 893.6,1210.7 892.9,1214.7 893.6,1218.8 892.0,1222.7 892.3,1226.9 891.0,1230.8 891.5,1234.9 890.3,1238.9 890.6,1243.0 890.2,1247.0 889.2,1251.0 889.5,1255.0 888.2,1259.0 889.1,1263.0 888.1,1267.4 888.9,1272.2 887.8,1277.0 888.5,1282.0 888.6,1287.0 887.2,1291.8 888.0,1296.5 887.1,1300.9 887.2,1304.9 886.8,1308.5 887.7,1311.6 887.4,1314.1" class="c"/>
<polygon points="296.0,1092.7 296.3,1095.3 295.5,1098.6 296.9,1102.5 295.6,1106.9 296.0,1111.7 296.7,1116.7 296.0,1121.9 297.5,1127.1 296.7,1132.3 298.4,1135.8 297.8,1139.7 299.0,1143.4 299.4,1147.4 298.5,1151.6 300.0,1155.6 299.6,1159.8 301.0,1163.9 300.6,1168.2 301.5,1172.3 301.9,1176.5 302.6,1180.6 303.2,1184.7 304.0,1188.7 305.7,1192.6 305.6,1196.8 307.3,1200.6 307.3,1204.8 309.0,1208.6 308.9,1212.9 310.5,1216.7 310.7,1220.9 311.3,1225.0 312.2,1229.0 314.3,1232.7 313.9,1237.0 315.5,1240.9 315.1,1245.3 317.2,1249.4 316.9,1253.9 318.5,1258.1 318.2,1262.6 319.9,1266.7 319.6,1271.0 321.5,1274.9 320.9,1278.9 322.3,1282.4 322.3,1285.9 322.4,1289.0 324.2,1295.0 323.9,1300.3 323.2,1304.8 322.6,1308.6 323.4,1311.7 322.9,1314.1 839.5,1314.1 840.1,1311.6 839.4,1308.4 839.3,1304.6 840.3,1300.4 839.6,1295.8 840.5,1291.0 840.2,1286.0 841.1,1281.1 840.0,1276.1 841.7,1271.5 841.0,1267.0 841.2,1263.0 842.7,1258.2 843.0,1253.5 842.5,1249.0 844.3,1244.9 843.4,1240.5 845.3,1236.5 845.5,1232.3 845.5,1228.0 847.5,1223.9 846.8,1219.7 849.1,1216.1 848.9,1211.9 850.6,1208.2 850.7,1204.1 852.8,1200.4 853.0,1196.3 854.7,1192.6 854.8,1188.4 855.3,1184.4 857.3,1180.4 857.3,1176.0 859.2,1172.1 859.2,1167.8 861.4,1163.9 861.4,1159.4 862.9,1155.1 862.8,1150.3 864.2,1145.5 863.4,1141.6 864.9,1137.5 865.1,1133.1 864.4,1128.4 864.9,1123.7 864.8,1118.9 866.0,1114.3 865.1,1109.7 866.5,1105.5 865.4,1101.5 865.5,1098.0 866.9,1095.1 866.5,1092.7" fill="#00d4ff"/>
<polyline points="296.0,1092.7 296.3,1095.3 295.5,1098.6 296.9,1102.5 295.6,1106.9 296.0,1111.7 296.7,1116.7 296.0,1121.9 297.5,1127.1 296.7,1132.3 298.4,1135.8 297.8,1139.7 299.0,1143.4 299.4,1147.4 298.5,1151.6 300.0,1155.6 299.6,1159.8 301.0,1163.9 300.6,1168.2 301.5,1172.3 301.9,1176.5 302.6,1180.6 303.2,1184.7 304.0,1188.7 305.7,1192.6 305.6,1196.8 307.3,1200.6 307.3,1204.8 309.0,1208.6 308.9,1212.9 310.5,1216.7 310.7,1220.9 311.3,1225.0 312.2,1229.0 314.3,1232.7 313.9,1237.0 315.5,1240.9 315.1,1245.3 317.2,1249.4 316.9,1253.9 318.5,1258.1 318.2,1262.6 319.9,1266.7 319.6,1271.0 321.5,1274.9 320.9,1278.9 322.3,1282.4 322.3,1285.9 322.4,1289.0 324.2,1295.0 323.9,1300.3 323.2,1304.8 322.6,1308.6 323.4,1311.7 322.9,1314.1" class="c"/>
<polyline points="866.5,1092.7 866.9,1095.1 865.5,1098.0 865.4,1101.5 866.5,1105.5 865.1,1109.7 866.0,1114.3 864.8,1118.9 864.9,1123.7 864.4,1128.4 865.1,1133.1 864.9,1137.5 863.4,1141.6 864.2,1145.5 862.8,1150.3 862.9,1155.1 861.4,1159.4 861.4,1163.9 859.2,1167.8 859.2,1172.1 857.3,1176.0 857.3,1180.4 855.3,1184.4 854.8,1188.4 854.7,1192.6 853.0,1196.3 852.8,1200.4 850.7,1204.1 850.6,1208.2 848.9,1211.9 849.1,1216.1 846.8,1219.7 847.5,1223.9 845.5,1228.0 845.5,1232.3 845.3,1236.5 843.4,1240.5 844.3,1244.9 842.5,1249.0 843.0,1253.5 842.7,1258.2 841.2,1263.0 841.0,1267.0 841.7,1271.5 840.0,1276.1 841.1,1281.1 840.2,1286.0 840.5,1291.0 839.6,1295.8 840.3,1300.4 839.3,1304.6 839.4,1308.4 840.1,1311.6 839.5,1314.1" class="c"/>
<polygon points="325.5,1092.7 326.4,1095.3 325.2,1099.0 326.6,1103.2 326.0,1107.9 327.1,1112.9 327.7,1118.0 327.1,1123.2 328.6,1127.9 328.0,1132.4 329.8,1136.8 330.5,1141.3 330.6,1145.9 332.3,1150.1 332.2,1154.6 334.1,1158.4 333.6,1162.5 335.6,1165.9 335.7,1171.2 336.4,1175.7 338.3,1179.5 338.5,1183.7 340.6,1187.7 340.8,1191.8 342.5,1195.3 343.2,1199.3 345.2,1203.0 346.0,1207.3 348.3,1211.3 349.0,1215.6 351.5,1219.6 352.3,1224.5 355.1,1228.6 355.9,1233.3 358.8,1236.9 359.2,1241.1 360.5,1245.7 362.7,1249.4 363.3,1253.2 363.7,1256.9 365.8,1260.4 366.9,1264.3 368.1,1268.2 367.9,1272.4 370.2,1275.9 369.9,1280.1 371.0,1285.1 371.7,1290.2 373.2,1295.1 373.1,1299.7 373.9,1305.4 373.3,1310.6 373.7,1314.1 789.4,1314.1 789.9,1311.5 789.2,1307.8 790.9,1303.7 790.2,1298.8 791.5,1294.0 791.0,1288.9 792.4,1284.3 792.0,1279.9 793.8,1275.6 793.9,1271.2 795.6,1267.2 796.8,1263.2 796.6,1258.8 799.1,1255.0 800.0,1250.8 801.1,1246.6 801.6,1242.2 804.2,1238.5 804.4,1234.0 806.9,1230.1 807.4,1225.5 809.9,1221.5 810.3,1217.2 812.7,1213.3 812.7,1208.7 815.3,1204.8 815.6,1200.2 817.1,1196.0 819.1,1192.1 819.4,1187.7 821.8,1183.7 822.3,1179.2 825.1,1175.7 825.5,1171.4 827.7,1167.6 829.0,1163.2 829.5,1158.3 831.1,1154.5 832.3,1150.2 831.8,1145.4 833.8,1140.9 834.6,1136.2 834.6,1131.5 834.9,1127.0 836.7,1122.9 836.1,1119.0 837.5,1113.6 837.3,1108.3 837.3,1103.4 837.4,1099.0 837.2,1095.4 836.4,1092.7" fill="#1affe5"/>
<polyline points="325.5,1092.7 326.4,1095.3 325.2,1099.0 326.6,1103.2 326.0,1107.9 327.1,1112.9 327.7,1118.0 327.1,1123.2 328.6,1127.9 328.0,1132.4 329.8,1136.8 330.5,1141.3 330.6,1145.9 332.3,1150.1 332.2,1154.6 334.1,1158.4 333.6,1162.5 335.6,1165.9 335.7,1171.2 336.4,1175.7 338.3,1179.5 338.5,1183.7 340.6,1187.7 340.8,1191.8 342.5,1195.3 343.2,1199.3 345.2,1203.0 346.0,1207.3 348.3,1211.3 349.0,1215.6 351.5,1219.6 352.3,1224.5 355.1,1228.6 355.9,1233.3 358.8,1236.9 359.2,1241.1 360.5,1245.7 362.7,1249.4 363.3,1253.2 363.7,1256.9 365.8,1260.4 366.9,1264.3 368.1,1268.2 367.9,1272.4 370.2,1275.9 369.9,1280.1 371.0,1285.1 371.7,1290.2 373.2,1295.1 373.1,1299.7 373.9,1305.4 373.3,1310.6 373.7,1314.1" class="c"/>
<polyline points="836.4,1092.7 837.2,1095.4 837.4,1099.0 837.3,1103.4 837.3,1108.3 837.5,1113.6 836.1,1119.0 836.7,1122.9 834.9,1127.0 834.6,1131.5 834.6,1136.2 833.8,1140.9 831.8,1145.4 832.3,1150.2 831.1,1154.5 829.5,1158.3 829.0,1163.2 827.7,1167.6 825.5,1171.4 825.1,1175.7 822.3,1179.2 821.8,1183.7 819.4,1187.7 819.1,1192.1 817.1,1196.0 815.6,1200.2 815.3,1204.8 812.7,1208.7 812.7,1213.3 810.3,1217.2 809.9,1221.5 807.4,1225.5 806.9,1230.1 804.4,1234.0 804.2,1238.5 801.6,1242.2 801.1,1246.6 800.0,1250.8 799.1,1255.0 796.6,1258.8 796.8,1263.2 795.6,1267.2 793.9,1271.2 793.8,1275.6 792.0,1279.9 792.4,1284.3 791.0,1288.9 791.5,1294.0 790.2,1298.8 790.9,1303.7 789.2,1307.8 789.9,1311.5 789.4,1314.1" class="c"/>
<polygon points="349.8,1092.7 349.3,1095.5 350.3,1099.5 350.5,1104.2 350.0,1109.0 351.4,1113.3 351.0,1117.5 353.0,1121.2 353.1,1125.3 355.1,1128.9 355.0,1133.2 356.7,1137.0 358.4,1140.8 359.3,1144.8 361.3,1148.6 362.1,1152.8 364.7,1156.3 365.6,1160.6 367.9,1164.3 369.3,1168.4 372.0,1171.9 373.6,1176.0 374.7,1180.3 377.9,1183.6 378.9,1188.0 381.9,1191.5 382.7,1195.9 385.7,1199.4 387.5,1203.4 388.6,1207.8 390.6,1211.7 393.4,1215.2 394.4,1219.5 397.4,1223.0 399.1,1227.0 400.1,1231.3 402.6,1235.0 405.2,1238.6 407.1,1242.6 408.3,1246.9 411.2,1250.4 412.1,1254.9 415.2,1258.3 416.3,1262.7 419.2,1266.1 420.1,1270.4 422.2,1274.0 423.5,1277.8 423.6,1281.9 425.9,1285.5 425.6,1290.1 427.8,1293.8 427.7,1298.6 429.3,1303.1 429.3,1307.7 430.5,1311.4 430.6,1314.1 736.9,1314.1 736.6,1311.4 738.2,1307.7 737.7,1303.2 738.9,1298.6 738.5,1293.8 740.3,1290.0 741.2,1285.8 741.8,1281.8 741.8,1277.7 744.2,1274.4 745.4,1270.5 746.4,1266.5 747.9,1262.6 748.5,1258.3 751.2,1254.8 752.2,1250.6 755.0,1247.1 755.8,1242.6 758.7,1239.0 760.1,1234.8 762.7,1231.1 764.0,1226.9 766.8,1223.4 768.1,1219.2 770.9,1215.7 771.8,1211.3 773.9,1207.5 776.3,1203.7 778.4,1199.8 779.6,1195.5 781.7,1191.7 784.2,1188.0 785.7,1183.8 788.1,1180.2 789.4,1175.9 792.2,1172.4 793.3,1168.0 796.1,1164.5 798.2,1160.5 799.4,1156.3 802.3,1152.9 802.8,1148.6 804.8,1144.9 804.7,1140.6 806.0,1136.8 807.8,1133.1 808.0,1128.9 810.1,1125.3 811.3,1121.4 811.5,1117.3 813.0,1113.5 812.0,1109.0 813.1,1104.2 813.0,1099.5 812.0,1095.5 812.4,1092.7" fill="#5effa2"/>
<polyline points="349.8,1092.7 349.3,1095.5 350.3,1099.5 350.5,1104.2 350.0,1109.0 351.4,1113.3 351.0,1117.5 353.0,1121.2 353.1,1125.3 355.1,1128.9 355.0,1133.2 356.7,1137.0 358.4,1140.8 359.3,1144.8 361.3,1148.6 362.1,1152.8 364.7,1156.3 365.6,1160.6 367.9,1164.3 369.3,1168.4 372.0,1171.9 373.6,1176.0 374.7,1180.3 377.9,1183.6 378.9,1188.0 381.9,1191.5 382.7,1195.9 385.7,1199.4 387.5,1203.4 388.6,1207.8 390.6,1211.7 393.4,1215.2 394.4,1219.5 397.4,1223.0 399.1,1227.0 400.1,1231.3 402.6,1235.0 405.2,1238.6 407.1,1242.6 408.3,1246.9 411.2,1250.4 412.1,1254.9 415.2,1258.3 416.3,1262.7 419.2,1266.1 420.1,1270.4 422.2,1274.0 423.5,1277.8 423.6,1281.9 425.9,1285.5 425.6,1290.1 427.8,1293.8 427.7,1298.6 429.3,1303.1 429.3,1307.7 430.5,1311.4 430.6,1314.1" class="c"/>
<polyline points="812.4,1092.7 812.0,1095.5 813.0,1099.5 813.1,1104.2 812.0,1109.0 813.0,1113.5 811.5,1117.3 811.3,1121.4 810.1,1125.3 808.0,1128.9 807.8,1133.1 806.0,1136.8 804.7,1140.6 804.8,1144.9 802.8,1148.6 802.3,1152.9 799.4,1156.3 798.2,1160.5 796.1,1164.5 793.3,1168.0 792.2,1172.4 789.4,1175.9 788.1,1180.2 785.7,1183.8 784.2,1188.0 781.7,1191.7 779.6,1195.5 778.4,1199.8 776.3,1203.7 773.9,1207.5 771.8,1211.3 770.9,1215.7 768.1,1219.2 766.8,1223.4 764.0,1226.9 762.7,1231.1 760.1,1234.8 758.7,1239.0 755.8,1242.6 755.0,1247.1 752.2,1250.6 751.2,1254.8 748.5,1258.3 747.9,1262.6 746.4,1266.5 745.4,1270.5 744.2,1274.4 741.8,1277.7 741.8,1281.8 741.2,1285.8 740.3,1290.0 738.5,1293.8 738.9,1298.6 737.7,1303.2 738.2,1307.7 736.6,1311.4 736.9,1314.1" class="c"/>
<polygon points="370.4,1092.7 371.6,1095.4 370.5,1099.7 372.7,1104.1 373.8,1108.9 373.7,1113.6 376.6,1117.0 376.8,1121.6 380.0,1124.9 380.2,1129.6 382.2,1133.4 384.3,1137.2 386.3,1141.1 389.5,1144.3 391.6,1148.2 393.4,1152.3 396.0,1156.1 397.5,1160.8 400.0,1165.0 403.0,1168.8 407.1,1171.9 408.8,1175.8 412.1,1178.5 413.7,1182.6 417.9,1184.6 418.9,1189.2 422.8,1191.5 424.8,1195.3 428.1,1198.0 429.4,1202.3 433.0,1204.8 435.8,1207.9 437.7,1211.7 441.3,1214.2 442.6,1218.5 446.2,1220.9 448.8,1224.1 451.8,1227.0 452.9,1231.7 457.4,1233.7 460.6,1237.1 462.4,1241.9 466.9,1244.0 468.6,1248.2 472.2,1250.2 473.0,1256.0 476.0,1259.6 478.2,1263.9 479.1,1267.8 481.8,1270.9 485.7,1273.2 487.4,1277.6 491.7,1279.4 495.1,1283.4 497.0,1288.6 500.0,1292.5 503.5,1295.5 505.3,1302.1 503.6,1307.2 502.7,1311.8 499.8,1314.1 663.3,1314.1 663.9,1310.2 667.3,1305.8 666.3,1301.0 668.7,1296.0 670.5,1292.8 672.2,1288.9 672.8,1283.9 676.9,1280.5 678.0,1275.9 682.2,1272.8 684.1,1267.9 686.9,1263.9 689.3,1260.2 693.4,1257.3 694.1,1252.9 697.6,1250.6 698.7,1246.0 702.7,1244.3 704.5,1240.5 706.9,1237.1 709.8,1233.9 712.7,1230.5 716.5,1228.5 718.8,1225.1 720.4,1221.0 724.6,1218.8 727.2,1215.5 728.3,1210.9 731.4,1208.0 733.4,1204.2 736.3,1201.1 740.3,1198.9 743.0,1195.7 744.2,1191.4 748.1,1188.2 750.0,1183.7 753.5,1180.3 755.4,1175.9 759.1,1172.7 762.2,1169.0 763.3,1163.7 767.2,1160.6 769.4,1156.3 772.6,1152.9 775.2,1149.1 775.8,1144.4 779.0,1141.1 779.7,1136.7 782.8,1133.3 784.7,1129.5 784.5,1124.7 787.8,1121.6 787.9,1117.2 790.2,1113.5 791.1,1109.1 790.3,1104.1 792.9,1099.6 792.6,1095.6 792.2,1092.7" fill="#a2ff5e"/>
<polyline points="370.4,1092.7 371.6,1095.4 370.5,1099.7 372.7,1104.1 373.8,1108.9 373.7,1113.6 376.6,1117.0 376.8,1121.6 380.0,1124.9 380.2,1129.6 382.2,1133.4 384.3,1137.2 386.3,1141.1 389.5,1144.3 391.6,1148.2 393.4,1152.3 396.0,1156.1 397.5,1160.8 400.0,1165.0 403.0,1168.8 407.1,1171.9 408.8,1175.8 412.1,1178.5 413.7,1182.6 417.9,1184.6 418.9,1189.2 422.8,1191.5 424.8,1195.3 428.1,1198.0 429.4,1202.3 433.0,1204.8 435.8,1207.9 437.7,1211.7 441.3,1214.2 442.6,1218.5 446.2,1220.9 448.8,1224.1 451.8,1227.0 452.9,1231.7 457.4,1233.7 460.6,1237.1 462.4,1241.9 466.9,1244.0 468.6,1248.2 472.2,1250.2 473.0,1256.0 476.0,1259.6 478.2,1263.9 479.1,1267.8 481.8,1270.9 485.7,1273.2 487.4,1277.6 491.7,1279.4 495.1,1283.4 497.0,1288.6 500.0,1292.5 503.5,1295.5 505.3,1302.1 503.6,1307.2 502.7,1311.8 499.8,1314.1" class="c"/>
<polyline points="792.2,1092.7 792.6,1095.6 792.9,1099.6 790.3,1104.1 791.1,1109.1 790.2,1113.5 787.9,1117.2 787.8,1121.6 784.5,1124.7 784.7,1129.5 782.8,1133.3 779.7,1136.7 779.0,1141.1 775.8,1144.4 775.2,1149.1 772.6,1152.9 769.4,1156.3 767.2,1160.6 763.3,1163.7 762.2,1169.0 759.1,1172.7 755.4,1175.9 753.5,1180.3 750.0,1183.7 748.1,1188.2 744.2,1191.4 743.0,1195.7 740.3,1198.9 736.3,1201.1 733.4,1204.2 731.4,1208.0 728.3,1210.9 727.2,1215.5 724.6,1218.8 720.4,1221.0 718.8,1225.1 716.5,1228.5 712.7,1230.5 709.8,1233.9 706.9,1237.1 704.5,1240.5 702.7,1244.3 698.7,1246.0 697.6,1250.6 694.1,1252.9 693.4,1257.3 689.3,1260.2 686.9,1263.9 684.1,1267.9 682.2,1272.8 678.0,1275.9 676.9,1280.5 672.8,1283.9 672.2,1288.9 670.5,1292.8 668.7,1296.0 666.3,1301.0 667.3,1305.8 663.9,1310.2 663.3,1314.1" class="c"/>
<polygon points="389.0,1092.7 388.8,1095.7 391.0,1099.5 390.9,1104.4 393.9,1108.7 394.4,1113.7 396.8,1117.5 399.9,1121.1 402.1,1125.5 406.0,1128.7 408.0,1133.5 411.5,1136.1 414.7,1139.0 416.4,1143.4 419.8,1146.3 423.8,1148.8 426.5,1152.4 430.0,1155.3 432.1,1159.7 435.5,1162.7 438.6,1166.3 443.0,1168.4 445.3,1172.8 449.2,1174.7 451.6,1178.3 455.7,1180.2 458.5,1183.4 461.0,1187.0 465.0,1188.6 467.8,1191.5 470.6,1195.0 473.8,1197.8 477.2,1200.3 480.8,1202.2 484.0,1204.8 486.6,1208.1 490.7,1209.4 493.4,1212.7 497.4,1214.1 500.0,1217.5 503.8,1218.9 506.3,1221.9 510.7,1222.9 513.5,1226.2 517.6,1227.0 520.6,1229.6 524.5,1230.7 528.5,1233.6 532.8,1236.0 537.7,1237.0 542.2,1238.1 546.3,1240.4 550.8,1240.6 555.4,1240.0 560.0,1241.2 563.9,1240.1 567.8,1240.1 571.8,1241.5 575.9,1241.2 580.0,1240.2 584.2,1242.2 589.0,1241.5 593.4,1243.0 597.8,1242.4 601.4,1242.0 606.2,1240.7 610.3,1238.3 615.0,1235.4 619.0,1234.2 623.3,1233.1 627.7,1231.2 632.7,1231.3 636.7,1228.4 641.5,1228.1 645.5,1225.4 650.3,1224.9 654.6,1223.3 658.2,1220.8 663.1,1219.7 667.0,1217.1 670.1,1213.8 674.4,1212.0 677.9,1208.7 681.9,1206.4 686.4,1204.8 689.2,1200.9 693.3,1199.0 695.1,1195.1 698.6,1192.2 700.9,1187.3 704.7,1185.2 707.3,1181.6 711.4,1179.0 714.6,1175.3 718.2,1172.0 720.8,1167.9 724.7,1165.2 727.4,1161.3 731.8,1159.1 734.9,1155.5 737.3,1151.6 741.1,1149.0 743.3,1145.1 747.0,1142.6 748.8,1138.6 752.0,1135.9 753.9,1132.2 756.1,1128.8 759.6,1125.4 762.3,1121.5 763.7,1116.9 766.6,1113.4 768.8,1109.8 769.6,1104.5 772.3,1100.0 772.4,1095.4 774.1,1092.7" fill="#e5ff1a"/>
<polyline points="389.0,1092.7 388.8,1095.7 391.0,1099.5 390.9,1104.4 393.9,1108.7 394.4,1113.7 396.8,1117.5 399.9,1121.1 402.1,1125.5 406.0,1128.7 408.0,1133.5 411.5,1136.1 414.7,1139.0 416.4,1143.4 419.8,1146.3 423.8,1148.8 426.5,1152.4 430.0,1155.3 432.1,1159.7 435.5,1162.7 438.6,1166.3 443.0,1168.4 445.3,1172.8 449.2,1174.7 451.6,1178.3 455.7,1180.2 458.5,1183.4 461.0,1187.0 465.0,1188.6 467.8,1191.5 470.6,1195.0 473.8,1197.8 477.2,1200.3 480.8,1202.2 484.0,1204.8 486.6,1208.1 490.7,1209.4 493.4,1212.7 497.4,1214.1 500.0,1217.5 503.8,1218.9 506.3,1221.9 510.7,1222.9 513.5,1226.2 517.6,1227.0 520.6,1229.6 524.5,1230.7 528.5,1233.6 532.8,1236.0 537.7,1237.0 542.2,1238.1 546.3,1240.4 550.8,1240.6 555.4,1240.0 560.0,1241.2 563.9,1240.1 567.8,1240.1 571.8,1241.5 575.9,1241.2 580.0,1240.2 584.2,1242.2 589.0,1241.5 593.4,1243.0 597.8,1242.4 601.4,1242.0 606.2,1240.7 610.3,1238.3 615.0,1235.4 619.0,1234.2 623.3,1233.1 627.7,1231.2 632.7,1231.3 636.7,1228.4 641.5,1228.1 645.5,1225.4 650.3,1224.9 654.6,1223.3 658.2,1220.8 663.1,1219.7 667.0,1217.1 670.1,1213.8 674.4,1212.0 677.9,1208.7 681.9,1206.4 686.4,1204.8 689.2,1200.9 693.3,1199.0 695.1,1195.1 698.6,1192.2 700.9,1187.3 704.7,1185.2 707.3,1181.6 711.4,1179.0 714.6,1175.3 718.2,1172.0 720.8,1167.9 724.7,1165.2 727.4,1161.3 731.8,1159.1 734.9,1155.5 737.3,1151.6 741.1,1149.0 743.3,1145.1 747.0,1142.6 748.8,1138.6 752.0,1135.9 753.9,1132.2 756.1,1128.8 759.6,1125.4 762.3,1121.5 763.7,1116.9 766.6,1113.4 768.8,1109.8 769.6,1104.5 772.3,1100.0 772.4,1095.4 774.1,1092.7" class="c"/>
<polygon points="405.7,1092.7 407.1,1095.1 408.6,1098.6 409.5,1103.3 413.0,1107.2 414.3,1110.9 417.9,1113.2 419.9,1117.5 423.3,1120.7 426.8,1123.9 430.0,1127.3 433.3,1129.6 436.2,1132.4 438.5,1136.0 442.5,1137.8 445.1,1141.3 448.3,1144.1 451.9,1146.5 454.4,1149.6 457.5,1152.2 461.4,1153.8 464.0,1157.1 467.8,1158.9 470.5,1162.0 474.2,1163.8 477.1,1166.7 481.4,1168.4 484.7,1171.8 489.2,1173.0 492.7,1176.0 497.0,1177.5 500.4,1180.7 504.5,1182.3 508.9,1183.4 512.3,1186.1 516.1,1188.2 520.4,1188.9 524.1,1191.1 528.4,1191.7 532.0,1194.5 536.5,1195.0 540.9,1196.2 545.2,1198.0 549.7,1198.7 553.9,1200.3 558.1,1200.4 561.5,1202.1 566.3,1203.1 570.0,1202.1 573.9,1202.4 580.0,1203.0 583.3,1201.6 587.4,1202.3 591.8,1202.4 596.3,1200.5 601.3,1201.2 606.1,1200.5 610.7,1198.9 615.4,1199.5 619.3,1197.5 623.2,1198.3 628.1,1196.4 632.5,1196.0 636.0,1194.4 639.5,1193.3 643.2,1193.0 646.6,1190.6 650.4,1188.9 654.4,1187.3 658.8,1186.6 662.0,1183.3 666.1,1181.7 670.6,1180.7 673.8,1177.3 677.8,1175.2 682.2,1173.9 686.1,1171.6 690.2,1169.5 693.4,1165.9 697.8,1164.2 700.6,1160.3 705.2,1158.4 707.9,1154.4 712.2,1152.2 715.0,1148.3 719.2,1146.1 721.9,1142.0 725.1,1138.5 728.7,1135.5 732.5,1132.8 734.7,1129.0 737.7,1124.9 741.6,1121.5 743.6,1117.0 746.0,1113.0 748.8,1109.6 751.9,1105.0 753.7,1099.7 755.5,1095.4 757.5,1092.7" fill="#ffd500"/>
<polyline points="405.7,1092.7 407.1,1095.1 408.6,1098.6 409.5,1103.3 413.0,1107.2 414.3,1110.9 417.9,1113.2 419.9,1117.5 423.3,1120.7 426.8,1123.9 430.0,1127.3 433.3,1129.6 436.2,1132.4 438.5,1136.0 442.5,1137.8 445.1,1141.3 448.3,1144.1 451.9,1146.5 454.4,1149.6 457.5,1152.2 461.4,1153.8 464.0,1157.1 467.8,1158.9 470.5,1162.0 474.2,1163.8 477.1,1166.7 481.4,1168.4 484.7,1171.8 489.2,1173.0 492.7,1176.0 497.0,1177.5 500.4,1180.7 504.5,1182.3 508.9,1183.4 512.3,1186.1 516.1,1188.2 520.4,1188.9 524.1,1191.1 528.4,1191.7 532.0,1194.5 536.5,1195.0 540.9,1196.2 545.2,1198.0 549.7,1198.7 553.9,1200.3 558.1,1200.4 561.5,1202.1 566.3,1203.1 570.0,1202.1 573.9,1202.4 580.0,1203.0 583.3,1201.6 587.4,1202.3 591.8,1202.4 596.3,1200.5 601.3,1201.2 606.1,1200.5 610.7,1198.9 615.4,1199.5 619.3,1197.5 623.2,1198.3 628.1,1196.4 632.5,1196.0 636.0,1194.4 639.5,1193.3 643.2,1193.0 646.6,1190.6 650.4,1188.9 654.4,1187.3 658.8,1186.6 662.0,1183.3 666.1,1181.7 670.6,1180.7 673.8,1177.3 677.8,1175.2 682.2,1173.9 686.1,1171.6 690.2,1169.5 693.4,1165.9 697.8,1164.2 700.6,1160.3 705.2,1158.4 707.9,1154.4 712.2,1152.2 715.0,1148.3 719.2,1146.1 721.9,1142.0 725.1,1138.5 728.7,1135.5 732.5,1132.8 734.7,1129.0 737.7,1124.9 741.6,1121.5 743.6,1117.0 746.0,1113.0 748.8,1109.6 751.9,1105.0 753.7,1099.7 755.5,1095.4 757.5,1092.7" class="c"/>
<polygon points="421.4,1092.7 423.6,1095.1 425.7,1099.4 430.2,1102.8 433.5,1108.1 437.4,1109.5 440.4,1112.4 443.0,1116.2 447.3,1118.3 450.2,1122.0 454.0,1124.7 457.3,1127.5 461.2,1129.3 463.9,1132.4 468.0,1133.6 470.7,1136.8 474.1,1138.9 477.9,1140.4 481.1,1143.0 484.9,1144.7 488.6,1146.5 492.3,1148.5 495.4,1151.6 499.6,1152.4 502.8,1155.2 507.0,1155.9 510.7,1158.8 514.8,1160.8 519.1,1162.1 523.5,1163.2 527.5,1165.6 532.4,1165.8 536.1,1168.1 540.5,1169.3 545.2,1169.3 549.4,1171.4 553.9,1171.4 557.9,1173.0 561.7,1172.7 566.5,1174.5 570.5,1174.3 574.5,1174.7 580.0,1175.6 583.7,1174.4 587.9,1175.1 592.4,1174.2 597.1,1173.3 602.1,1174.1 606.7,1173.0 611.2,1172.0 615.4,1172.5 620.0,1170.8 624.6,1171.1 628.5,1169.1 632.5,1168.1 636.8,1168.2 641.0,1167.0 645.0,1164.7 649.7,1164.1 653.6,1161.2 658.3,1160.5 662.6,1159.0 666.2,1156.3 670.3,1155.1 673.4,1152.2 677.4,1151.3 680.6,1148.7 684.5,1147.3 687.4,1144.2 691.8,1143.0 694.6,1139.4 698.5,1137.1 702.5,1135.0 705.6,1131.5 709.7,1129.4 712.7,1125.8 716.5,1123.0 719.3,1119.0 722.7,1115.6 726.6,1113.0 728.5,1109.1 732.5,1105.9 734.6,1101.3 738.2,1098.3 739.9,1094.7 741.8,1092.7" fill="#ff9100"/>
<polyline points="421.4,1092.7 423.6,1095.1 425.7,1099.4 430.2,1102.8 433.5,1108.1 437.4,1109.5 440.4,1112.4 443.0,1116.2 447.3,1118.3 450.2,1122.0 454.0,1124.7 457.3,1127.5 461.2,1129.3 463.9,1132.4 468.0,1133.6 470.7,1136.8 474.1,1138.9 477.9,1140.4 481.1,1143.0 484.9,1144.7 488.6,1146.5 492.3,1148.5 495.4,1151.6 499.6,1152.4 502.8,1155.2 507.0,1155.9 510.7,1158.8 514.8,1160.8 519.1,1162.1 523.5,1163.2 527.5,1165.6 532.4,1165.8 536.1,1168.1 540.5,1169.3 545.2,1169.3 549.4,1171.4 553.9,1171.4 557.9,1173.0 561.7,1172.7 566.5,1174.5 570.5,1174.3 574.5,1174.7 580.0,1175.6 583.7,1174.4 587.9,1175.1 592.4,1174.2 597.1,1173.3 602.1,1174.1 606.7,1173.0 611.2,1172.0 615.4,1172.5 620.0,1170.8 624.6,1171.1 628.5,1169.1 632.5,1168.1 636.8,1168.2 641.0,1167.0 645.0,1164.7 649.7,1164.1 653.6,1161.2 658.3,1160.5 662.6,1159.0 666.2,1156.3 670.3,1155.1 673.4,1152.2 677.4,1151.3 680.6,1148.7 684.5,1147.3 687.4,1144.2 691.8,1143.0 694.6,1139.4 698.5,1137.1 702.5,1135.0 705.6,1131.5 709.7,1129.4 712.7,1125.8 716.5,1123.0 719.3,1119.0 722.7,1115.6 726.6,1113.0 728.5,1109.1 732.5,1105.9 734.6,1101.3 738.2,1098.3 739.9,1094.7 741.8,1092.7" class="c"/>
<polygon points="438.0,1092.7 440.4,1094.3 443.6,1097.0 447.2,1100.5 451.5,1104.0 454.9,1105.2 457.5,1108.2 461.3,1109.8 464.5,1112.6 468.4,1114.4 471.5,1117.4 475.5,1119.0 478.7,1121.6 482.6,1123.1 485.9,1125.6 489.8,1127.3 493.2,1129.6 497.2,1130.9 500.7,1133.2 504.7,1134.4 508.5,1136.5 512.5,1138.1 516.8,1138.7 520.5,1140.6 524.5,1141.5 528.1,1143.1 532.2,1144.3 536.2,1144.7 540.0,1145.3 543.7,1146.6 547.6,1147.3 551.8,1147.9 555.5,1147.9 559.2,1148.4 563.0,1149.2 566.9,1149.8 571.0,1149.1 575.3,1149.9 580.0,1149.2 583.9,1150.0 588.2,1149.4 592.7,1149.9 597.3,1149.1 602.0,1149.4 606.6,1148.5 611.1,1148.3 615.3,1148.3 619.2,1147.4 624.5,1147.5 629.4,1146.8 633.7,1145.3 638.2,1145.1 642.3,1143.6 646.7,1142.6 651.3,1141.9 655.5,1139.8 660.1,1138.7 664.1,1136.4 668.4,1135.0 672.1,1132.8 676.6,1131.0 680.3,1128.4 684.4,1126.6 688.1,1124.1 691.5,1120.9 694.9,1118.5 698.4,1116.0 701.8,1113.3 705.5,1110.9 708.2,1107.8 711.6,1105.8 715.2,1101.8 719.3,1098.5 722.3,1095.3 724.1,1092.7" fill="#ff4c00"/>
<polyline points="438.0,1092.7 440.4,1094.3 443.6,1097.0 447.2,1100.5 451.5,1104.0 454.9,1105.2 457.5,1108.2 461.3,1109.8 464.5,1112.6 468.4,1114.4 471.5,1117.4 475.5,1119.0 478.7,1121.6 482.6,1123.1 485.9,1125.6 489.8,1127.3 493.2,1129.6 497.2,1130.9 500.7,1133.2 504.7,1134.4 508.5,1136.5 512.5,1138.1 516.8,1138.7 520.5,1140.6 524.5,1141.5 528.1,1143.1 532.2,1144.3 536.2,1144.7 540.0,1145.3 543.7,1146.6 547.6,1147.3 551.8,1147.9 555.5,1147.9 559.2,1148.4 563.0,1149.2 566.9,1149.8 571.0,1149.1 575.3,1149.9 580.0,1149.2 583.9,1150.0 588.2,1149.4 592.7,1149.9 597.3,1149.1 602.0,1149.4 606.6,1148.5 611.1,1148.3 615.3,1148.3 619.2,1147.4 624.5,1147.5 629.4,1146.8 633.7,1145.3 638.2,1145.1 642.3,1143.6 646.7,1142.6 651.3,1141.9 655.5,1139.8 660.1,1138.7 664.1,1136.4 668.4,1135.0 672.1,1132.8 676.6,1131.0 680.3,1128.4 684.4,1126.6 688.1,1124.1 691.5,1120.9 694.9,1118.5 698.4,1116.0 701.8,1113.3 705.5,1110.9 708.2,1107.8 711.6,1105.8 715.2,1101.8 719.3,1098.5 722.3,1095.3 724.1,1092.7" class="c"/>
<polygon points="462.5,1092.7 465.3,1094.0 469.2,1096.0 473.4,1098.8 478.5,1100.9 482.9,1103.9 486.6,1105.1 489.8,1107.3 493.5,1108.9 497.4,1110.3 501.2,1111.9 504.7,1114.1 508.7,1115.1 512.5,1116.7 516.3,1118.4 520.3,1119.7 524.3,1121.1 528.4,1121.8 532.2,1123.4 536.2,1123.8 540.5,1125.4 545.1,1126.0 549.5,1126.8 553.7,1127.7 557.8,1128.7 561.6,1129.2 566.3,1129.5 569.9,1130.7 574.1,1131.1 580.0,1130.6 583.5,1131.1 587.6,1130.8 592.0,1130.0 596.8,1130.4 601.5,1129.3 606.4,1129.6 611.0,1128.6 615.4,1128.9 619.2,1127.7 624.3,1127.7 628.7,1127.0 632.7,1125.8 636.7,1125.1 640.5,1124.0 644.7,1123.3 649.0,1121.6 653.6,1120.5 658.0,1118.5 662.3,1116.5 666.6,1115.3 670.1,1113.1 675.0,1111.3 678.9,1108.8 682.3,1106.2 685.8,1103.4 690.1,1100.9 694.4,1097.8 698.1,1094.8 700.6,1092.7" fill="#ff0800"/>
<polyline points="462.5,1092.7 465.3,1094.0 469.2,1096.0 473.4,1098.8 478.5,1100.9 482.9,1103.9 486.6,1105.1 489.8,1107.3 493.5,1108.9 497.4,1110.3 501.2,1111.9 504.7,1114.1 508.7,1115.1 512.5,1116.7 516.3,1118.4 520.3,1119.7 524.3,1121.1 528.4,1121.8 532.2,1123.4 536.2,1123.8 540.5,1125.4 545.1,1126.0 549.5,1126.8 553.7,1127.7 557.8,1128.7 561.6,1129.2 566.3,1129.5 569.9,1130.7 574.1,1131.1 580.0,1130.6 583.5,1131.1 587.6,1130.8 592.0,1130.0 596.8,1130.4 601.5,1129.3 606.4,1129.6 611.0,1128.6 615.4,1128.9 619.2,1127.7 624.3,1127.7 628.7,1127.0 632.7,1125.8 636.7,1125.1 640.5,1124.0 644.7,1123.3 649.0,1121.6 653.6,1120.5 658.0,1118.5 662.3,1116.5 666.6,1115.3 670.1,1113.1 675.0,1111.3 678.9,1108.8 682.3,1106.2 685.8,1103.4 690.1,1100.9 694.4,1097.8 698.1,1094.8 700.6,1092.7" class="c"/>
<polygon points="491.0,1092.7 493.5,1093.5 496.9,1095.1 501.2,1096.3 505.7,1098.4 510.7,1099.5 514.1,1101.1 518.0,1101.8 521.9,1103.4 526.2,1104.2 530.5,1105.7 535.1,1107.0 539.9,1107.8 543.7,1107.9 547.6,1108.9 551.8,1109.2 556.2,1109.3 560.6,1110.2 565.0,1110.0 569.1,1111.0 573.1,1110.7 576.8,1111.5 580.0,1110.9 586.1,1111.5 590.4,1110.4 594.5,1110.1 599.7,1109.9 603.3,1108.7 607.4,1108.7 611.7,1108.3 616.1,1107.3 620.7,1107.3 625.0,1106.6 628.9,1105.3 633.6,1105.0 638.2,1104.0 642.5,1102.6 646.9,1102.1 650.8,1100.6 654.5,1099.6 659.8,1098.1 664.4,1095.7 668.3,1093.7 671.2,1092.7" fill="#c30000"/>
<polyline points="491.0,1092.7 493.5,1093.5 496.9,1095.1 501.2,1096.3 505.7,1098.4 510.7,1099.5 514.1,1101.1 518.0,1101.8 521.9,1103.4 526.2,1104.2 530.5,1105.7 535.1,1107.0 539.9,1107.8 543.7,1107.9 547.6,1108.9 551.8,1109.2 556.2,1109.3 560.6,1110.2 565.0,1110.0 569.1,1111.0 573.1,1110.7 576.8,1111.5 580.0,1110.9 586.1,1111.5 590.4,1110.4 594.5,1110.1 599.7,1109.9 603.3,1108.7 607.4,1108.7 611.7,1108.3 616.1,1107.3 620.7,1107.3 625.0,1106.6 628.9,1105.3 633.6,1105.0 638.2,1104.0 642.5,1102.6 646.9,1102.1 650.8,1100.6 654.5,1099.6 659.8,1098.1 664.4,1095.7 668.3,1093.7 671.2,1092.7" class="c"/>
<path d="M104.6 1092.7H1059.4M104.6 1314.1H1059.4" class="fb"/>
<rect x="104.6" y="1056.2" width="954.2" height="294.5" class="ax"/>
<text transform="translate(142.1 1386.3) scale(1 1.075)" text-anchor="middle" class="tk">166</text>
<text transform="translate(288.9 1386.3) scale(1 1.075)" text-anchor="middle" class="tk">168</text>
<text transform="translate(435.7 1386.3) scale(1 1.075)" text-anchor="middle" class="tk">170</text>
<text transform="translate(582.5 1386.3) scale(1 1.075)" text-anchor="middle" class="tk">172</text>
<text transform="translate(729.3 1386.3) scale(1 1.075)" text-anchor="middle" class="tk">174</text>
<text transform="translate(876.1 1386.3) scale(1 1.075)" text-anchor="middle" class="tk">176</text>
<text transform="translate(1022.9 1386.3) scale(1 1.075)" text-anchor="middle" class="tk">178</text>
<path d="M141.3 1056.2v10M141.3 1350.7v-10M288.1 1056.2v10M288.1 1350.7v-10M434.9 1056.2v10M434.9 1350.7v-10M581.7 1056.2v10M581.7 1350.7v-10M728.5 1056.2v10M728.5 1350.7v-10M875.3 1056.2v10M875.3 1350.7v-10M1022.1 1056.2v10M1022.1 1350.7v-10M104.6 1092.7h9M104.6 1314.1h9M1058.8 1092.7h-9M1058.8 1314.1h-9" class="ax"/>
<text transform="translate(92.8 1067.1) scale(1 1.075)" text-anchor="end" class="tk">3.5</text>
<text transform="translate(92.8 1103.9) scale(1 1.075)" text-anchor="end" class="tk">3</text>
<text transform="translate(92.8 1140.7) scale(1 1.075)" text-anchor="end" class="tk">2.5</text>
<text transform="translate(92.8 1177.5) scale(1 1.075)" text-anchor="end" class="tk">2</text>
<text transform="translate(92.8 1214.4) scale(1 1.075)" text-anchor="end" class="tk">1.5</text>
<text transform="translate(92.8 1251.2) scale(1 1.075)" text-anchor="end" class="tk">1</text>
<text transform="translate(92.8 1288.0) scale(1 1.075)" text-anchor="end" class="tk">0.5</text>
<text transform="translate(92.8 1324.8) scale(1 1.075)" text-anchor="end" class="tk">0</text>
<text transform="translate(92.8 1361.6) scale(1 1.075)" text-anchor="end" class="tk">-0.5</text>
<text transform="translate(584.0 1428.3) scale(1 1.1)" text-anchor="middle" class="lb">x [m]</text>
<text transform="translate(37.9 1203.2) rotate(-90) scale(1 1.1)" text-anchor="middle" class="lb">z [m]</text>
<text transform="translate(576.5 1040.2) scale(1.03 1)" text-anchor="middle" class="ti">Location C</text>
<rect x="1113.6" y="395.9" width="25.8" height="8.6" fill="#800000"/>
<text x="1151.4" y="410.8" class="cb">9</text>
<rect x="1113.6" y="440.2" width="25.8" height="8.6" fill="#c30000"/>
<text x="1151.4" y="455.1" class="cb">8.4</text>
<rect x="1113.6" y="484.5" width="25.8" height="8.6" fill="#ff0800"/>
<text x="1151.4" y="499.4" class="cb">7.8</text>
<rect x="1113.6" y="528.9" width="25.8" height="8.6" fill="#ff4c00"/>
<text x="1151.4" y="543.8" class="cb">7.2</text>
<rect x="1113.6" y="573.2" width="25.8" height="8.6" fill="#ff9100"/>
<text x="1151.4" y="588.1" class="cb">6.6</text>
<rect x="1113.6" y="617.5" width="25.8" height="8.6" fill="#ffd500"/>
<text x="1151.4" y="632.4" class="cb">6</text>
<rect x="1113.6" y="661.8" width="25.8" height="8.6" fill="#e5ff1a"/>
<text x="1151.4" y="676.7" class="cb">5.4</text>
<rect x="1113.6" y="706.1" width="25.8" height="8.6" fill="#a2ff5e"/>
<text x="1151.4" y="721.0" class="cb">4.8</text>
<rect x="1113.6" y="750.5" width="25.8" height="8.6" fill="#5effa2"/>
<text x="1151.4" y="765.4" class="cb">4.2</text>
<rect x="1113.6" y="794.8" width="25.8" height="8.6" fill="#1affe5"/>
<text x="1151.4" y="809.7" class="cb">3.6</text>
<rect x="1113.6" y="839.1" width="25.8" height="8.6" fill="#00d4ff"/>
<text x="1151.4" y="854.0" class="cb">3</text>
<rect x="1113.6" y="883.4" width="25.8" height="8.6" fill="#0090ff"/>
<text x="1151.4" y="898.3" class="cb">2.4</text>
<rect x="1113.6" y="927.7" width="25.8" height="8.6" fill="#004dff"/>
<text x="1151.4" y="942.6" class="cb">1.8</text>
<rect x="1113.6" y="972.1" width="25.8" height="8.6" fill="#0008ff"/>
<text x="1151.4" y="987.0" class="cb">1.2</text>
<rect x="1113.6" y="1016.4" width="25.8" height="8.6" fill="#0000c3"/>
<text x="1151.4" y="1031.3" class="cb">0.6</text>
<rect x="1113.6" y="1060.7" width="25.8" height="8.6" fill="#000080"/>
<text x="1151.4" y="1075.6" class="cb">0</text>
<path d="M1113.6 400.2h3.5M1139.4 400.2h-3.5M1113.6 444.5h3.5M1139.4 444.5h-3.5M1113.6 488.8h3.5M1139.4 488.8h-3.5M1113.6 533.2h3.5M1139.4 533.2h-3.5M1113.6 577.5h3.5M1139.4 577.5h-3.5M1113.6 621.8h3.5M1139.4 621.8h-3.5M1113.6 666.1h3.5M1139.4 666.1h-3.5M1113.6 710.4h3.5M1139.4 710.4h-3.5M1113.6 754.8h3.5M1139.4 754.8h-3.5M1113.6 799.1h3.5M1139.4 799.1h-3.5M1113.6 843.4h3.5M1139.4 843.4h-3.5M1113.6 887.7h3.5M1139.4 887.7h-3.5M1113.6 932.0h3.5M1139.4 932.0h-3.5M1113.6 976.4h3.5M1139.4 976.4h-3.5M1113.6 1020.7h3.5M1139.4 1020.7h-3.5M1113.6 1065.0h3.5M1139.4 1065.0h-3.5" class="ax"/>
<rect x="1113.6" y="395.8" width="25.8" height="673.6" class="ax"/>
<text x="1135.6" y="383.6" class="cb" style="font-size:26.5px">×10<tspan dx="3" dy="-9.5" style="font-size:22px">-2</tspan></text>
<g class="cap">
<text transform="translate(325.5 1664.0) scale(0.993 1)" text-anchor="start" class="cp">(<tspan font-weight="bold">c</tspan>)</text>
<text transform="translate(438.6 1664.0) scale(1.11 1.09)" text-anchor="start" class="cp" font-style="italic">t</text>
<text transform="translate(489.8 1669.5) scale(1.54 1)" text-anchor="start" class="cp" style="font-size:84px;stroke:#fff;stroke-width:1.1px">=</text>
<text transform="translate(555.8 1664.6) scale(1.067 1.03)" text-anchor="start" class="cp">50</text>
<text transform="translate(663.8 1664.0) scale(1.111 1)" text-anchor="start" class="cp">years</text>
</g>
</svg></body></html>
